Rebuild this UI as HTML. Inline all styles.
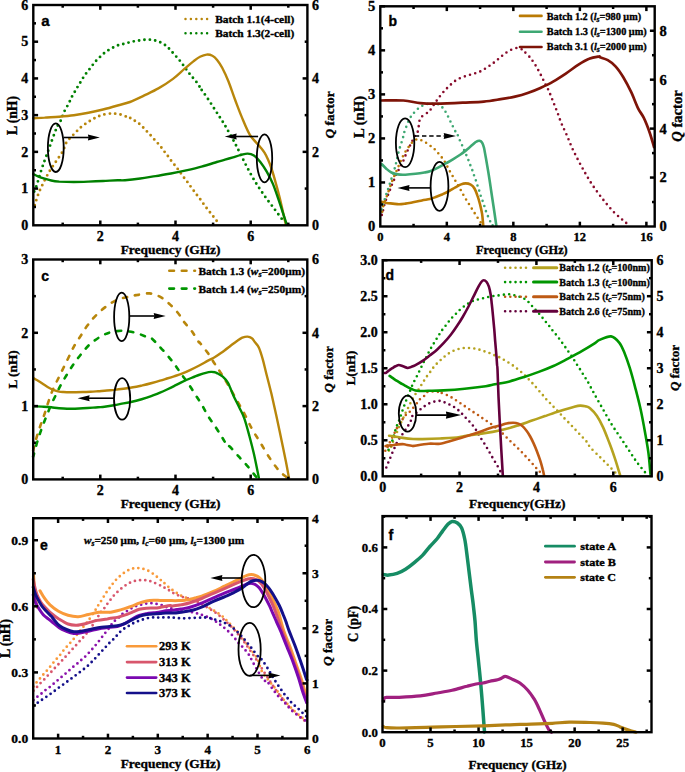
<!DOCTYPE html>
<html><head><meta charset="utf-8"><style>
html,body{margin:0;padding:0;background:#fff;}
svg{display:block;}
text{stroke:#000;stroke-width:0.35px;}
</style></head><body>
<svg width="685" height="772" viewBox="0 0 685 772">
<rect width="685" height="772" fill="#fff"/>
<path d="M34.2,191.5 C34.6,190.6 35.5,188.8 36.4,186.2 C37.3,183.6 38.5,179.4 39.5,176.0 C40.5,172.6 41.5,169.6 42.7,166.0 C43.9,162.4 45.5,158.3 46.9,154.4 C48.3,150.5 49.8,146.4 51.2,142.5 C52.6,138.6 54.4,133.7 55.4,131.0 C56.4,128.3 56.4,128.1 57.2,126.5 C58.0,124.9 59.5,123.0 60.4,121.3 C61.3,119.6 61.8,118.1 62.4,116.5 C63.0,114.9 63.5,113.2 64.3,111.6 C65.0,110.0 66.0,108.4 66.9,106.8 C67.8,105.2 68.7,103.5 69.5,101.9 C70.3,100.3 70.9,98.7 71.7,97.1 C72.5,95.5 73.5,93.9 74.4,92.4 C75.3,90.9 76.1,89.5 77.0,87.9 C77.9,86.4 79.0,84.6 79.9,83.1 C80.8,81.6 81.6,80.3 82.5,78.8 C83.4,77.3 84.3,75.8 85.4,74.3 C86.5,72.8 87.8,71.4 88.9,69.9 C90.0,68.5 91.1,67.0 92.2,65.6 C93.3,64.2 94.2,62.8 95.4,61.5 C96.6,60.2 97.9,58.9 99.3,57.6 C100.7,56.3 102.1,54.8 103.6,53.6 C105.0,52.4 106.4,51.4 108.0,50.4 C109.6,49.4 111.4,48.4 113.1,47.5 C114.8,46.6 116.5,45.8 118.2,45.2 C119.9,44.6 121.7,44.3 123.4,43.9 C125.1,43.5 126.8,43.0 128.5,42.6 C130.2,42.2 131.9,41.7 133.6,41.4 C135.3,41.1 137.0,40.9 138.7,40.6 C140.4,40.4 142.1,40.1 143.8,39.9 C145.5,39.7 147.2,39.5 148.9,39.6 C150.6,39.7 152.2,39.9 153.7,40.2 C155.2,40.5 156.6,40.9 158.1,41.4 C159.6,41.9 161.0,42.6 162.5,43.4 C164.0,44.2 165.6,45.3 166.9,46.4 C168.2,47.5 169.2,48.8 170.4,50.1 C171.6,51.4 173.0,53.0 174.2,54.4 C175.4,55.8 176.6,56.9 177.7,58.2 C178.8,59.5 179.9,60.7 181.0,62.1 C182.1,63.5 183.3,65.3 184.4,66.8 C185.5,68.3 186.5,69.8 187.6,71.2 C188.7,72.6 189.7,74.0 190.8,75.3 C191.9,76.6 193.1,78.0 194.2,79.3 C195.3,80.6 196.5,81.9 197.5,83.3 C198.5,84.7 199.6,86.7 200.0,87.5 C200.4,88.3 199.0,86.3 200.1,87.9 C201.2,89.5 203.6,92.5 206.6,96.9 C209.6,101.3 214.8,109.5 217.9,114.3 C221.0,119.1 222.2,120.7 225.0,125.5 C227.8,130.3 231.6,136.8 234.9,143.1 C238.2,149.3 241.6,156.6 244.9,163.0 C248.2,169.4 251.6,175.8 254.9,181.3 C258.2,186.8 261.5,191.5 264.8,196.2 C268.1,200.9 271.9,205.6 274.8,209.5 C277.7,213.4 280.7,217.2 282.2,219.4 C283.7,221.6 283.7,222.0 284.0,222.5" fill="none" stroke="#008000" stroke-width="2.9" stroke-linecap="round" stroke-linejoin="round" stroke-dasharray="0 5.4"/>
<path d="M34.7,205.3 C35.3,203.4 37.0,197.5 38.5,193.6 C40.0,189.7 41.9,185.9 43.8,182.0 C45.7,178.1 48.0,173.8 50.1,170.3 C52.2,166.8 54.4,164.0 56.5,160.8 C58.6,157.6 61.1,154.4 62.8,151.3 C64.5,148.2 64.7,145.1 66.5,142.3 C68.3,139.5 71.4,136.9 73.8,134.3 C76.2,131.8 78.7,129.1 81.1,127.0 C83.5,124.9 86.0,123.5 88.4,121.9 C90.8,120.3 93.3,118.8 95.7,117.6 C98.1,116.4 100.3,115.4 103.0,114.7 C105.7,114.0 109.4,113.6 111.8,113.5 C114.2,113.4 115.5,113.7 117.2,113.9 C118.9,114.2 120.6,114.5 122.2,115.0 C123.8,115.5 126.2,116.7 127.0,116.9 C127.8,117.1 126.5,116.1 127.3,116.4 C128.1,116.7 130.4,118.0 131.9,118.9 C133.4,119.8 135.0,120.8 136.5,121.9 C138.0,123.0 139.7,124.0 141.1,125.3 C142.5,126.5 143.6,128.1 144.9,129.4 C146.2,130.7 147.4,131.8 148.7,133.2 C150.0,134.5 151.2,136.1 152.5,137.5 C153.8,138.9 155.1,140.3 156.3,141.7 C157.5,143.0 158.8,144.2 159.9,145.6 C161.1,147.0 162.1,148.6 163.2,150.1 C164.3,151.6 165.5,152.9 166.6,154.3 C167.7,155.7 168.5,157.1 169.6,158.6 C170.7,160.1 172.0,161.6 173.2,163.1 C174.3,164.6 175.4,165.9 176.5,167.3 C177.6,168.7 178.5,170.1 179.6,171.6 C180.7,173.1 181.7,174.6 182.8,176.1 C183.9,177.6 185.1,178.9 186.2,180.3 C187.3,181.7 188.1,183.1 189.2,184.6 C190.3,186.1 191.5,187.6 192.6,189.1 C193.7,190.6 194.5,191.9 195.6,193.3 C196.7,194.7 197.9,196.2 199.0,197.6 C200.1,199.0 201.1,200.6 202.2,202.0 C203.2,203.4 204.2,204.9 205.3,206.3 C206.4,207.7 207.4,209.2 208.6,210.6 C209.8,212.0 211.0,213.6 212.2,215.0 C213.3,216.4 214.4,217.9 215.5,219.3 C216.6,220.7 218.3,222.8 218.9,223.5 C219.5,224.2 219.0,223.3 219.0,223.3" fill="none" stroke="#B8860B" stroke-width="2.9" stroke-linecap="round" stroke-linejoin="round" stroke-dasharray="0 5.4"/>
<path d="M33.2,118.3 C35.1,118.2 40.3,117.8 44.6,117.6 C48.9,117.3 54.3,117.2 59.2,116.8 C64.1,116.4 68.9,116.0 73.8,115.3 C78.7,114.6 83.5,113.8 88.4,112.8 C93.3,111.8 98.1,110.7 103.0,109.5 C107.9,108.3 113.1,106.8 117.6,105.5 C122.1,104.2 125.6,103.6 130.0,102.0 C134.4,100.4 139.1,98.0 143.8,95.7 C148.5,93.4 153.5,91.2 158.4,88.4 C163.3,85.6 168.6,82.2 173.0,78.9 C177.4,75.6 181.3,71.6 184.7,68.7 C188.1,65.8 190.8,63.4 193.4,61.4 C196.0,59.4 197.8,57.9 200.0,56.8 C202.2,55.7 204.5,54.8 206.6,54.6 C208.7,54.4 210.7,54.9 212.4,55.8 C214.2,56.7 215.5,57.9 217.1,59.9 C218.7,61.9 220.3,64.1 222.2,67.7 C224.1,71.3 226.4,76.2 228.5,81.5 C230.6,86.8 232.8,93.7 235.0,99.5 C237.2,105.3 239.1,110.7 241.6,116.6 C244.1,122.5 246.9,129.8 249.9,134.8 C252.9,139.8 257.4,143.4 259.8,146.4 C262.2,149.4 263.1,150.4 264.5,152.6 C265.9,154.8 266.9,157.0 268.1,159.7 C269.3,162.3 270.4,165.2 271.5,168.5 C272.6,171.8 273.4,174.7 274.8,179.6 C276.2,184.5 278.2,191.7 279.7,197.8 C281.2,203.9 282.9,211.7 283.9,216.1 C284.9,220.5 285.5,223.0 285.8,224.4" fill="none" stroke="#B8860B" stroke-width="2.4" stroke-linecap="round" stroke-linejoin="round"/>
<path d="M33.2,174.0 C34.0,174.4 36.1,175.5 38.0,176.3 C39.9,177.1 42.4,178.0 44.6,178.7 C46.8,179.4 48.8,180.0 51.2,180.5 C53.6,181.0 55.4,181.3 59.2,181.6 C63.0,181.8 68.9,182.0 73.8,182.0 C78.7,182.0 83.5,181.8 88.4,181.6 C93.3,181.4 98.1,181.2 103.0,181.0 C107.9,180.8 113.9,180.4 117.6,180.3 C121.3,180.2 121.2,180.5 125.0,180.2 C128.8,179.9 135.2,179.2 140.3,178.5 C145.4,177.8 150.5,176.9 155.6,176.1 C160.7,175.3 165.8,174.4 170.9,173.5 C176.0,172.6 181.1,171.6 186.2,170.4 C191.3,169.2 196.4,168.0 201.5,166.6 C206.6,165.2 212.8,163.2 216.7,162.0 C220.6,160.8 222.3,160.5 225.0,159.7 C227.7,158.9 230.3,158.1 233.0,157.3 C235.7,156.5 238.8,155.5 241.2,154.9 C243.6,154.3 245.5,153.5 247.6,153.6 C249.7,153.7 251.8,154.1 253.9,155.5 C256.0,156.9 258.2,159.2 260.3,161.9 C262.4,164.6 264.5,167.7 266.6,171.4 C268.7,175.1 271.1,179.5 273.0,184.1 C274.9,188.7 276.7,194.3 278.3,198.9 C279.9,203.5 281.1,207.4 282.5,211.6 C283.9,215.8 286.0,222.2 286.7,224.3" fill="none" stroke="#008000" stroke-width="2.4" stroke-linecap="round" stroke-linejoin="round"/>
<ellipse cx="55.8" cy="147.7" rx="7.9" ry="24.3" fill="none" stroke="#000" stroke-width="1.8"/>
<line x1="63.9" y1="137.5" x2="88.9" y2="137.5" stroke="#000" stroke-width="1.6"/>
<path d="M99.9,137.5 L87.9,134.4 L88.5,137.5 L87.9,140.6 Z" fill="#000"/>
<ellipse cx="264.5" cy="158.3" rx="7.7" ry="24" fill="none" stroke="#000" stroke-width="1.8"/>
<line x1="258.1" y1="136.5" x2="235.7" y2="136.5" stroke="#000" stroke-width="1.6"/>
<path d="M224.7,136.5 L236.7,133.4 L236.1,136.5 L236.7,139.6 Z" fill="#000"/>
<line x1="185.5" y1="19.1" x2="208.4" y2="19.1" stroke="#B8860B" stroke-width="2.5" stroke-dasharray="0 5.4" stroke-linecap="round"/>
<line x1="185.5" y1="33.2" x2="208.4" y2="33.2" stroke="#008000" stroke-width="2.5" stroke-dasharray="0 5.4" stroke-linecap="round"/>
<text x="215.2" y="22.6" font-size="11.4" text-anchor="start" font-weight="bold" font-family='"Liberation Serif", serif' >Batch 1.1(4-cell)</text>
<text x="215.2" y="37" font-size="11.4" text-anchor="start" font-weight="bold" font-family='"Liberation Serif", serif' >Batch 1.3(2-cell)</text>
<text x="41.2" y="26.3" font-size="15" text-anchor="start" font-weight="bold" font-family='"Liberation Sans", sans-serif' >a</text>
<text x="16.6" y="115.5" font-size="13.6" text-anchor="middle" font-weight="bold" font-family='"Liberation Serif", serif' transform="rotate(-90 16.6 115.5)"  textLength="38.9" lengthAdjust="spacingAndGlyphs">L (nH)</text>
<text x="334" y="114.9" font-size="13.4" text-anchor="middle" font-weight="bold" font-family='"Liberation Serif", serif' transform="rotate(-90 334 114.9)"  textLength="47.2" lengthAdjust="spacingAndGlyphs"><tspan font-style="italic">Q</tspan> factor</text>
<text x="170.6" y="253.9" font-size="13.4" text-anchor="middle" font-weight="bold" font-family='"Liberation Serif", serif' >Frequency (GHz)</text>
<line x1="100.30000000000001" y1="225.3" x2="100.30000000000001" y2="220.5" stroke="#000" stroke-width="2.5"/>
<line x1="100.30000000000001" y1="5" x2="100.30000000000001" y2="9.8" stroke="#000" stroke-width="2.5"/>
<line x1="175.5" y1="225.3" x2="175.5" y2="220.5" stroke="#000" stroke-width="2.5"/>
<line x1="175.5" y1="5" x2="175.5" y2="9.8" stroke="#000" stroke-width="2.5"/>
<line x1="250.70000000000002" y1="225.3" x2="250.70000000000002" y2="220.5" stroke="#000" stroke-width="2.5"/>
<line x1="250.70000000000002" y1="5" x2="250.70000000000002" y2="9.8" stroke="#000" stroke-width="2.5"/>
<line x1="62.7" y1="225.3" x2="62.7" y2="222.60000000000002" stroke="#000" stroke-width="2.5"/>
<line x1="62.7" y1="5" x2="62.7" y2="7.7" stroke="#000" stroke-width="2.5"/>
<line x1="137.9" y1="225.3" x2="137.9" y2="222.60000000000002" stroke="#000" stroke-width="2.5"/>
<line x1="137.9" y1="5" x2="137.9" y2="7.7" stroke="#000" stroke-width="2.5"/>
<line x1="213.1" y1="225.3" x2="213.1" y2="222.60000000000002" stroke="#000" stroke-width="2.5"/>
<line x1="213.1" y1="5" x2="213.1" y2="7.7" stroke="#000" stroke-width="2.5"/>
<line x1="288.3" y1="225.3" x2="288.3" y2="222.60000000000002" stroke="#000" stroke-width="2.5"/>
<line x1="288.3" y1="5" x2="288.3" y2="7.7" stroke="#000" stroke-width="2.5"/>
<line x1="33.3" y1="188.58" x2="38.099999999999994" y2="188.58" stroke="#000" stroke-width="2.5"/>
<line x1="33.3" y1="151.86" x2="38.099999999999994" y2="151.86" stroke="#000" stroke-width="2.5"/>
<line x1="33.3" y1="115.14000000000001" x2="38.099999999999994" y2="115.14000000000001" stroke="#000" stroke-width="2.5"/>
<line x1="33.3" y1="78.42000000000002" x2="38.099999999999994" y2="78.42000000000002" stroke="#000" stroke-width="2.5"/>
<line x1="33.3" y1="41.70000000000002" x2="38.099999999999994" y2="41.70000000000002" stroke="#000" stroke-width="2.5"/>
<line x1="33.3" y1="206.94" x2="36.0" y2="206.94" stroke="#000" stroke-width="2.5"/>
<line x1="33.3" y1="170.22000000000003" x2="36.0" y2="170.22000000000003" stroke="#000" stroke-width="2.5"/>
<line x1="33.3" y1="133.5" x2="36.0" y2="133.5" stroke="#000" stroke-width="2.5"/>
<line x1="33.3" y1="96.78000000000003" x2="36.0" y2="96.78000000000003" stroke="#000" stroke-width="2.5"/>
<line x1="33.3" y1="60.06" x2="36.0" y2="60.06" stroke="#000" stroke-width="2.5"/>
<line x1="33.3" y1="23.340000000000032" x2="36.0" y2="23.340000000000032" stroke="#000" stroke-width="2.5"/>
<line x1="307.4" y1="151.86" x2="302.59999999999997" y2="151.86" stroke="#000" stroke-width="2.5"/>
<line x1="307.4" y1="78.42000000000002" x2="302.59999999999997" y2="78.42000000000002" stroke="#000" stroke-width="2.5"/>
<line x1="307.4" y1="188.58" x2="304.7" y2="188.58" stroke="#000" stroke-width="2.5"/>
<line x1="307.4" y1="115.14000000000001" x2="304.7" y2="115.14000000000001" stroke="#000" stroke-width="2.5"/>
<line x1="307.4" y1="41.70000000000002" x2="304.7" y2="41.70000000000002" stroke="#000" stroke-width="2.5"/>
<text x="100.30000000000001" y="240.9" font-size="14" text-anchor="middle" font-weight="bold" font-family='"Liberation Serif", serif' >2</text>
<text x="175.5" y="240.9" font-size="14" text-anchor="middle" font-weight="bold" font-family='"Liberation Serif", serif' >4</text>
<text x="250.70000000000002" y="240.9" font-size="14" text-anchor="middle" font-weight="bold" font-family='"Liberation Serif", serif' >6</text>
<text x="28.299999999999997" y="230.06" font-size="14" text-anchor="end" font-weight="bold" font-family='"Liberation Serif", serif' >0</text>
<text x="28.299999999999997" y="193.34" font-size="14" text-anchor="end" font-weight="bold" font-family='"Liberation Serif", serif' >1</text>
<text x="28.299999999999997" y="156.62" font-size="14" text-anchor="end" font-weight="bold" font-family='"Liberation Serif", serif' >2</text>
<text x="28.299999999999997" y="119.90000000000002" font-size="14" text-anchor="end" font-weight="bold" font-family='"Liberation Serif", serif' >3</text>
<text x="28.299999999999997" y="83.18000000000002" font-size="14" text-anchor="end" font-weight="bold" font-family='"Liberation Serif", serif' >4</text>
<text x="28.299999999999997" y="46.460000000000015" font-size="14" text-anchor="end" font-weight="bold" font-family='"Liberation Serif", serif' >5</text>
<text x="28.299999999999997" y="9.74000000000002" font-size="14" text-anchor="end" font-weight="bold" font-family='"Liberation Serif", serif' >6</text>
<text x="312.09999999999997" y="230.06" font-size="14" text-anchor="start" font-weight="bold" font-family='"Liberation Serif", serif' >0</text>
<text x="312.09999999999997" y="156.62" font-size="14" text-anchor="start" font-weight="bold" font-family='"Liberation Serif", serif' >2</text>
<text x="312.09999999999997" y="83.18000000000002" font-size="14" text-anchor="start" font-weight="bold" font-family='"Liberation Serif", serif' >4</text>
<text x="312.09999999999997" y="9.74000000000002" font-size="14" text-anchor="start" font-weight="bold" font-family='"Liberation Serif", serif' >6</text>
<rect x="33.3" y="5" width="274.09999999999997" height="220.3" fill="none" stroke="#000" stroke-width="2.4"/>
<path d="M381.8,214.9 C381.8,214.9 381.7,215.7 381.9,214.8 C382.1,213.9 382.8,211.4 383.2,209.7 C383.6,208.0 383.9,206.3 384.4,204.6 C384.9,202.9 385.5,201.2 386.1,199.5 C386.7,197.8 387.5,196.2 388.2,194.5 C388.9,192.8 389.5,191.1 390.2,189.4 C390.9,187.7 391.4,186.0 392.1,184.3 C392.8,182.7 393.5,181.2 394.2,179.5 C394.9,177.8 395.4,176.1 396.2,174.4 C397.0,172.7 398.0,171.1 398.9,169.4 C399.8,167.7 401.0,165.7 401.8,164.0 C402.6,162.3 403.2,161.1 403.9,159.4 C404.6,157.8 405.3,155.8 406.0,154.1 C406.7,152.4 407.4,150.9 408.2,149.3 C408.9,147.7 409.8,146.1 410.5,144.6 C411.2,143.1 411.9,141.8 412.7,140.2 C413.5,138.6 414.4,136.9 415.3,135.3 C416.2,133.7 417.3,133.4 418.1,130.6 C418.9,127.8 418.6,121.6 420.3,118.5 C422.1,115.4 426.7,113.6 428.6,111.8 C430.6,110.0 430.9,108.9 432.0,107.4 C433.1,106.0 433.9,104.5 434.9,103.1 C435.9,101.6 437.0,100.2 438.1,98.7 C439.2,97.2 440.2,95.7 441.4,94.3 C442.6,92.9 443.9,91.4 445.1,90.1 C446.3,88.8 447.5,87.7 448.8,86.4 C450.1,85.2 451.6,83.8 453.0,82.6 C454.4,81.4 455.8,80.3 457.4,79.4 C459.0,78.5 460.8,77.9 462.5,77.2 C464.2,76.5 465.9,76.0 467.6,75.5 C469.3,75.0 471.0,74.5 472.7,74.0 C474.4,73.5 476.2,73.0 477.8,72.4 C479.4,71.8 480.9,71.2 482.4,70.4 C483.9,69.6 485.5,68.4 487.0,67.4 C488.5,66.4 490.0,65.5 491.4,64.5 C492.8,63.5 494.1,62.4 495.5,61.3 C496.9,60.2 498.3,59.0 499.7,57.8 C501.1,56.6 502.4,55.4 503.8,54.3 C505.2,53.2 506.7,52.3 508.2,51.4 C509.7,50.5 511.3,49.7 512.9,49.1 C514.5,48.5 516.2,47.9 517.7,48.0 C519.2,48.1 521.1,49.0 522.1,49.5 C523.1,50.0 522.2,49.5 523.5,50.8 C524.8,52.1 527.9,54.9 529.8,57.2 C531.7,59.5 533.3,61.8 535.1,64.6 C536.9,67.4 538.8,71.1 540.4,74.1 C542.0,77.1 543.2,79.8 544.6,82.6 C546.0,85.4 547.5,87.8 548.9,91.0 C550.3,94.2 551.7,98.1 553.1,101.6 C554.5,105.1 555.9,108.5 557.3,112.2 C558.7,115.9 560.0,119.9 561.6,123.8 C563.2,127.7 565.1,131.3 566.9,135.4 C568.7,139.5 570.3,143.9 572.2,148.1 C574.1,152.3 576.4,156.7 578.5,160.8 C580.6,164.9 582.8,168.8 584.9,172.5 C587.0,176.2 588.9,179.6 591.2,183.1 C593.5,186.6 596.1,190.3 598.6,193.7 C601.1,197.0 603.4,200.0 606.0,203.2 C608.6,206.4 611.7,210.0 614.5,212.8 C617.3,215.6 620.5,218.1 623.0,220.2 C625.5,222.3 628.2,224.6 629.3,225.5" fill="none" stroke="#880C2C" stroke-width="2.6" stroke-linecap="round" stroke-linejoin="round" stroke-dasharray="0 5.4"/>
<path d="M381.8,209.6 C381.9,209.2 382.2,208.4 382.5,207.2 C382.8,206.0 383.3,204.0 383.8,202.3 C384.3,200.7 384.8,199.0 385.3,197.3 C385.8,195.6 386.4,194.0 387.0,192.2 C387.6,190.4 388.3,188.4 388.9,186.5 C389.5,184.6 390.2,182.7 390.8,180.8 C391.4,178.9 392.1,176.8 392.7,175.0 C393.3,173.2 393.7,171.6 394.2,170.0 C394.7,168.4 395.1,167.1 395.5,165.5 C395.9,163.9 396.2,162.2 396.6,160.5 C397.0,158.8 397.4,157.1 397.8,155.4 C398.2,153.7 398.5,152.0 399.0,150.3 C399.5,148.6 400.1,146.8 400.6,145.2 C401.1,143.5 401.7,142.0 402.2,140.4 C402.7,138.8 403.1,137.3 403.5,135.7 C403.9,134.1 403.6,133.9 404.7,131.0 C405.8,128.1 408.1,121.7 409.8,118.5 C411.5,115.3 413.2,113.6 415.0,111.7 C416.8,109.8 418.4,108.2 420.3,106.9 C422.2,105.6 424.9,104.6 426.7,104.1 C428.5,103.6 428.8,103.6 430.9,103.7 C433.0,103.8 436.9,103.4 439.4,104.8 C441.9,106.2 443.8,109.1 445.7,112.1 C447.6,115.1 449.4,119.5 451.0,122.7 C452.6,125.9 454.5,129.7 455.3,131.2 C456.1,132.7 455.6,130.8 456.0,131.5 C456.4,132.2 457.3,134.1 458.0,135.7 C458.7,137.3 459.4,139.3 460.1,141.0 C460.8,142.7 461.7,144.3 462.4,145.9 C463.1,147.5 463.6,148.9 464.3,150.6 C465.0,152.2 465.9,154.1 466.6,155.8 C467.4,157.6 468.1,159.4 468.8,161.1 C469.5,162.8 470.1,164.6 470.7,166.2 C471.3,167.8 472.0,169.3 472.6,170.9 C473.2,172.5 473.6,174.2 474.2,175.8 C474.8,177.5 475.4,179.1 476.0,180.8 C476.6,182.5 477.1,184.2 477.6,185.9 C478.2,187.6 478.8,189.3 479.3,191.0 C479.8,192.7 480.2,194.4 480.8,196.1 C481.4,197.8 482.1,199.5 482.7,201.2 C483.3,202.9 483.9,204.6 484.4,206.2 C484.9,207.8 485.3,209.4 485.9,211.0 C486.5,212.6 487.2,214.3 487.8,215.8 C488.4,217.3 489.1,218.8 489.7,220.2 C490.3,221.6 491.2,223.1 491.6,224.0 C492.0,224.9 492.0,225.4 492.3,225.5 C492.6,225.6 493.2,224.6 493.4,224.4" fill="none" stroke="#3EA873" stroke-width="2.6" stroke-linecap="round" stroke-linejoin="round" stroke-dasharray="0 5.4"/>
<path d="M382.2,211.7 C382.5,210.3 383.2,205.7 383.8,203.6 C384.4,201.5 385.1,200.8 385.7,199.2 C386.3,197.6 387.0,195.9 387.6,194.1 C388.2,192.3 388.9,190.2 389.5,188.4 C390.1,186.6 390.8,185.0 391.4,183.3 C392.0,181.6 392.6,179.9 393.3,178.2 C394.0,176.5 394.9,174.8 395.6,173.1 C396.4,171.4 397.1,169.5 397.8,167.8 C398.6,166.1 399.4,164.4 400.1,162.7 C400.8,161.0 401.4,159.3 402.2,157.7 C403.0,156.0 403.8,154.4 404.7,152.8 C405.6,151.2 406.7,149.8 407.7,148.4 C408.7,147.0 409.4,145.5 410.5,144.2 C411.6,142.9 412.8,141.7 414.0,140.8 C415.2,140.0 416.5,139.2 417.8,139.1 C419.1,139.0 420.5,139.9 421.9,140.5 C423.3,141.1 424.8,142.0 426.3,142.9 C427.8,143.8 430.0,145.6 430.8,146.2 C431.6,146.8 430.6,145.8 431.3,146.3 C432.0,146.8 433.6,148.1 434.8,149.3 C436.0,150.5 437.2,152.0 438.3,153.3 C439.4,154.6 440.6,155.9 441.7,157.3 C442.8,158.7 443.7,160.0 444.6,161.5 C445.5,163.0 446.4,164.7 447.2,166.3 C448.0,167.9 448.8,169.4 449.7,171.0 C450.6,172.6 451.7,174.4 452.6,176.0 C453.6,177.6 454.5,179.2 455.4,180.8 C456.3,182.4 457.1,183.8 458.0,185.3 C458.9,186.8 459.8,188.4 460.7,190.0 C461.6,191.6 462.4,193.2 463.3,194.8 C464.2,196.4 465.2,198.0 466.2,199.6 C467.2,201.2 468.2,202.8 469.1,204.3 C470.1,205.8 471.0,207.3 471.9,208.8 C472.8,210.3 473.8,211.7 474.7,213.2 C475.6,214.7 476.6,216.2 477.6,217.7 C478.6,219.2 479.9,221.0 480.6,222.1 C481.3,223.2 481.8,224.1 482.0,224.5" fill="none" stroke="#BA7A04" stroke-width="2.6" stroke-linecap="round" stroke-linejoin="round" stroke-dasharray="0 5.4"/>
<path d="M381.2,100.5 C384.9,100.5 396.9,100.1 403.4,100.5 C409.9,100.9 415.0,102.6 420.3,103.1 C425.6,103.6 428.1,103.8 435.2,103.7 C442.3,103.6 454.6,103.1 462.7,102.7 C470.8,102.3 477.4,102.2 483.8,101.6 C490.2,101.0 495.6,100.0 500.8,99.2 C506.0,98.4 510.5,97.6 515.0,96.6 C519.5,95.6 523.5,94.5 527.7,93.0 C531.9,91.5 536.2,89.8 540.4,87.9 C544.6,86.0 548.9,84.0 553.1,81.6 C557.3,79.2 561.6,76.4 565.8,73.6 C570.0,70.8 574.6,67.1 578.5,64.6 C582.4,62.1 585.7,60.1 589.1,58.8 C592.5,57.4 597.2,56.8 599.0,56.5 C600.8,56.2 598.5,56.7 600.0,57.3 C601.5,57.9 605.2,58.6 607.8,60.1 C610.4,61.6 612.9,63.4 615.5,66.3 C618.1,69.1 620.7,72.9 623.3,77.2 C625.9,81.5 628.6,86.7 631.1,91.9 C633.6,97.1 636.0,104.0 638.1,108.3 C640.2,112.6 641.7,113.6 643.7,117.7 C645.7,121.8 648.2,128.3 649.9,133.2 C651.6,138.1 653.3,144.7 654.0,147.0" fill="none" stroke="#7E1408" stroke-width="2.7" stroke-linecap="round" stroke-linejoin="round"/>
<path d="M381.8,165.0 C381.8,164.9 381.1,163.7 381.9,164.3 C382.6,164.9 384.7,167.3 386.3,168.7 C387.9,170.1 389.5,171.6 391.4,172.5 C393.3,173.4 395.5,174.0 397.8,174.4 C400.1,174.8 402.4,174.8 405.4,174.7 C408.3,174.6 412.3,174.2 415.5,173.8 C418.7,173.4 422.0,172.9 424.4,172.5 C426.8,172.1 427.8,172.0 430.0,171.2 C432.2,170.4 435.1,169.2 437.6,167.9 C440.1,166.7 442.6,165.1 445.2,163.7 C447.8,162.3 450.3,160.8 452.9,159.3 C455.4,157.8 458.1,156.1 460.5,154.5 C462.9,152.9 465.0,151.2 467.0,149.6 C469.0,148.0 470.9,146.0 472.5,144.7 C474.1,143.4 475.2,142.2 476.4,141.6 C477.6,140.9 478.7,140.6 479.6,140.8 C480.6,141.0 481.4,141.5 482.1,142.7 C482.8,143.9 483.4,145.2 484.0,147.8 C484.6,150.4 485.1,153.8 485.9,158.0 C486.6,162.2 487.6,167.9 488.5,173.2 C489.4,178.5 490.2,184.2 491.0,189.7 C491.8,195.2 492.6,200.5 493.5,206.2 C494.4,211.9 495.6,220.8 496.1,224.0 C496.6,227.2 496.3,225.2 496.3,225.5" fill="none" stroke="#3EA873" stroke-width="2.6" stroke-linecap="round" stroke-linejoin="round"/>
<path d="M381.8,202.2 C381.8,202.1 381.1,201.6 381.9,201.7 C382.6,201.8 384.5,202.7 386.3,203.0 C388.1,203.3 390.6,203.4 392.7,203.6 C394.8,203.8 396.9,204.2 399.0,204.2 C401.1,204.2 403.1,203.9 405.4,203.6 C407.7,203.3 410.2,202.8 413.0,202.3 C415.8,201.8 419.1,201.0 421.9,200.4 C424.7,199.8 427.6,199.6 430.0,199.0 C432.4,198.4 434.3,197.5 436.4,196.7 C438.5,195.9 440.6,195.1 442.7,194.2 C444.8,193.2 447.0,192.1 449.1,191.0 C451.2,189.9 453.4,188.5 455.4,187.4 C457.4,186.3 459.4,185.1 461.1,184.4 C462.8,183.7 464.0,183.4 465.6,183.4 C467.2,183.4 469.2,183.8 470.7,184.6 C472.2,185.4 473.4,186.6 474.5,188.5 C475.6,190.4 476.7,193.3 477.6,196.1 C478.6,198.8 479.4,202.0 480.2,205.0 C480.9,208.0 481.6,210.7 482.1,213.9 C482.6,217.1 482.9,222.1 483.1,224.0 C483.3,225.9 483.3,225.2 483.3,225.5" fill="none" stroke="#BA7A04" stroke-width="2.6" stroke-linecap="round" stroke-linejoin="round"/>
<ellipse cx="405.1" cy="142.8" rx="9.2" ry="24.4" fill="none" stroke="#000" stroke-width="1.8"/>
<line x1="414.8" y1="136" x2="444.7" y2="136" stroke="#000" stroke-width="1.6" stroke-dasharray="4.4 2.8"/>
<path d="M456,136 L443.7,133 L444.3,136 L443.7,139 Z" fill="#000"/>
<ellipse cx="439.5" cy="186.3" rx="8.9" ry="24.5" fill="none" stroke="#000" stroke-width="1.8"/>
<line x1="430.9" y1="187.9" x2="408.5" y2="187.9" stroke="#000" stroke-width="1.6"/>
<path d="M397.5,187.9 L409.5,184.9 L408.9,187.9 L409.5,190.9 Z" fill="#000"/>
<line x1="520" y1="15.9" x2="541.5" y2="15.9" stroke="#BA7A04" stroke-width="2.6" stroke-linecap="round"/>
<line x1="520" y1="31.8" x2="541.5" y2="31.8" stroke="#3EA873" stroke-width="2.6" stroke-linecap="round"/>
<line x1="520" y1="47" x2="541.5" y2="47" stroke="#7E1408" stroke-width="2.6" stroke-linecap="round"/>
<text x="546.8" y="20.1" font-size="10.5" text-anchor="start" font-weight="bold" font-family='"Liberation Serif", serif'  textLength="94.3" lengthAdjust="spacingAndGlyphs">Batch 1.2 (<tspan font-style="italic">l</tspan><tspan font-style="italic" font-size="8" dy="2">s</tspan><tspan dy="-2">=980 μm)</tspan></text>
<text x="546.8" y="35.3" font-size="10.5" text-anchor="start" font-weight="bold" font-family='"Liberation Serif", serif'  textLength="99.9" lengthAdjust="spacingAndGlyphs">Batch 1.3 (<tspan font-style="italic">l</tspan><tspan font-style="italic" font-size="8" dy="2">s</tspan><tspan dy="-2">=1300 μm)</tspan></text>
<text x="546.8" y="50.2" font-size="10.5" text-anchor="start" font-weight="bold" font-family='"Liberation Serif", serif'  textLength="99.9" lengthAdjust="spacingAndGlyphs">Batch 3.1 (<tspan font-style="italic">l</tspan><tspan font-style="italic" font-size="8" dy="2">s</tspan><tspan dy="-2">=2000 μm)</tspan></text>
<text x="388.4" y="26.3" font-size="14" text-anchor="start" font-weight="bold" font-family='"Liberation Sans", sans-serif' >b</text>
<text x="363.7" y="116.9" font-size="14.7" text-anchor="middle" font-weight="bold" font-family='"Liberation Serif", serif' transform="rotate(-90 363.7 116.9)"  textLength="42" lengthAdjust="spacingAndGlyphs">L (nH)</text>
<text x="682.3" y="116" font-size="14.6" text-anchor="middle" font-weight="bold" font-family='"Liberation Serif", serif' transform="rotate(-90 682.3 116)"  textLength="51.3" lengthAdjust="spacingAndGlyphs"><tspan font-style="italic">Q</tspan> factor</text>
<text x="521.9" y="254.3" font-size="12.3" text-anchor="middle" font-weight="bold" font-family='"Liberation Serif", serif' >Frequency (GHz)</text>
<line x1="446.82" y1="226.5" x2="446.82" y2="221.7" stroke="#000" stroke-width="2.5"/>
<line x1="446.82" y1="6.3" x2="446.82" y2="11.1" stroke="#000" stroke-width="2.5"/>
<line x1="513.34" y1="226.5" x2="513.34" y2="221.7" stroke="#000" stroke-width="2.5"/>
<line x1="513.34" y1="6.3" x2="513.34" y2="11.1" stroke="#000" stroke-width="2.5"/>
<line x1="579.86" y1="226.5" x2="579.86" y2="221.7" stroke="#000" stroke-width="2.5"/>
<line x1="579.86" y1="6.3" x2="579.86" y2="11.1" stroke="#000" stroke-width="2.5"/>
<line x1="646.38" y1="226.5" x2="646.38" y2="221.7" stroke="#000" stroke-width="2.5"/>
<line x1="646.38" y1="6.3" x2="646.38" y2="11.1" stroke="#000" stroke-width="2.5"/>
<line x1="413.56" y1="226.5" x2="413.56" y2="223.8" stroke="#000" stroke-width="2.5"/>
<line x1="413.56" y1="6.3" x2="413.56" y2="9.0" stroke="#000" stroke-width="2.5"/>
<line x1="480.08000000000004" y1="226.5" x2="480.08000000000004" y2="223.8" stroke="#000" stroke-width="2.5"/>
<line x1="480.08000000000004" y1="6.3" x2="480.08000000000004" y2="9.0" stroke="#000" stroke-width="2.5"/>
<line x1="546.6" y1="226.5" x2="546.6" y2="223.8" stroke="#000" stroke-width="2.5"/>
<line x1="546.6" y1="6.3" x2="546.6" y2="9.0" stroke="#000" stroke-width="2.5"/>
<line x1="613.12" y1="226.5" x2="613.12" y2="223.8" stroke="#000" stroke-width="2.5"/>
<line x1="613.12" y1="6.3" x2="613.12" y2="9.0" stroke="#000" stroke-width="2.5"/>
<line x1="380.3" y1="182.46" x2="385.1" y2="182.46" stroke="#000" stroke-width="2.5"/>
<line x1="380.3" y1="138.42000000000002" x2="385.1" y2="138.42000000000002" stroke="#000" stroke-width="2.5"/>
<line x1="380.3" y1="94.38" x2="385.1" y2="94.38" stroke="#000" stroke-width="2.5"/>
<line x1="380.3" y1="50.34" x2="385.1" y2="50.34" stroke="#000" stroke-width="2.5"/>
<line x1="380.3" y1="6.300000000000011" x2="385.1" y2="6.300000000000011" stroke="#000" stroke-width="2.5"/>
<line x1="380.3" y1="204.48" x2="383.0" y2="204.48" stroke="#000" stroke-width="2.5"/>
<line x1="380.3" y1="160.44" x2="383.0" y2="160.44" stroke="#000" stroke-width="2.5"/>
<line x1="380.3" y1="116.4" x2="383.0" y2="116.4" stroke="#000" stroke-width="2.5"/>
<line x1="380.3" y1="72.36000000000001" x2="383.0" y2="72.36000000000001" stroke="#000" stroke-width="2.5"/>
<line x1="380.3" y1="28.319999999999993" x2="383.0" y2="28.319999999999993" stroke="#000" stroke-width="2.5"/>
<line x1="654.7" y1="177.56" x2="649.9000000000001" y2="177.56" stroke="#000" stroke-width="2.5"/>
<line x1="654.7" y1="128.62" x2="649.9000000000001" y2="128.62" stroke="#000" stroke-width="2.5"/>
<line x1="654.7" y1="79.68" x2="649.9000000000001" y2="79.68" stroke="#000" stroke-width="2.5"/>
<line x1="654.7" y1="30.74000000000001" x2="649.9000000000001" y2="30.74000000000001" stroke="#000" stroke-width="2.5"/>
<line x1="654.7" y1="202.03" x2="652.0" y2="202.03" stroke="#000" stroke-width="2.5"/>
<line x1="654.7" y1="153.09" x2="652.0" y2="153.09" stroke="#000" stroke-width="2.5"/>
<line x1="654.7" y1="104.15" x2="652.0" y2="104.15" stroke="#000" stroke-width="2.5"/>
<line x1="654.7" y1="55.21000000000001" x2="652.0" y2="55.21000000000001" stroke="#000" stroke-width="2.5"/>
<text x="380.3" y="241.3" font-size="12.5" text-anchor="middle" font-weight="bold" font-family='"Liberation Serif", serif' >0</text>
<text x="446.82" y="241.3" font-size="12.5" text-anchor="middle" font-weight="bold" font-family='"Liberation Serif", serif' >4</text>
<text x="513.34" y="241.3" font-size="12.5" text-anchor="middle" font-weight="bold" font-family='"Liberation Serif", serif' >8</text>
<text x="579.86" y="241.3" font-size="12.5" text-anchor="middle" font-weight="bold" font-family='"Liberation Serif", serif' >12</text>
<text x="646.38" y="241.3" font-size="12.5" text-anchor="middle" font-weight="bold" font-family='"Liberation Serif", serif' >16</text>
<text x="375.3" y="231.43" font-size="14.5" text-anchor="end" font-weight="bold" font-family='"Liberation Serif", serif' >0</text>
<text x="375.3" y="187.39000000000001" font-size="14.5" text-anchor="end" font-weight="bold" font-family='"Liberation Serif", serif' >1</text>
<text x="375.3" y="143.35000000000002" font-size="14.5" text-anchor="end" font-weight="bold" font-family='"Liberation Serif", serif' >2</text>
<text x="375.3" y="99.31" font-size="14.5" text-anchor="end" font-weight="bold" font-family='"Liberation Serif", serif' >3</text>
<text x="375.3" y="55.27" font-size="14.5" text-anchor="end" font-weight="bold" font-family='"Liberation Serif", serif' >4</text>
<text x="375.3" y="11.230000000000011" font-size="14.5" text-anchor="end" font-weight="bold" font-family='"Liberation Serif", serif' >5</text>
<text x="659.4000000000001" y="231.43" font-size="14.5" text-anchor="start" font-weight="bold" font-family='"Liberation Serif", serif' >0</text>
<text x="659.4000000000001" y="182.49" font-size="14.5" text-anchor="start" font-weight="bold" font-family='"Liberation Serif", serif' >2</text>
<text x="659.4000000000001" y="133.55" font-size="14.5" text-anchor="start" font-weight="bold" font-family='"Liberation Serif", serif' >4</text>
<text x="659.4000000000001" y="84.61000000000001" font-size="14.5" text-anchor="start" font-weight="bold" font-family='"Liberation Serif", serif' >6</text>
<text x="659.4000000000001" y="35.67000000000001" font-size="14.5" text-anchor="start" font-weight="bold" font-family='"Liberation Serif", serif' >8</text>
<rect x="380.3" y="6.3" width="274.40000000000003" height="220.2" fill="none" stroke="#000" stroke-width="2.4"/>
<path d="M33.2,450.7 C33.2,450.4 32.9,451.5 33.5,449.0 C34.1,446.5 35.9,439.8 37.1,435.6 C38.4,431.4 39.7,427.7 41.0,423.9 C42.3,420.1 43.6,416.8 44.9,412.9 C46.2,409.0 47.4,404.6 48.8,400.6 C50.2,396.6 51.5,392.8 53.1,389.0 C54.7,385.2 56.8,381.5 58.5,378.0 C60.2,374.5 61.8,371.3 63.5,367.8 C65.2,364.3 67.1,360.5 68.9,356.8 C70.7,353.1 72.4,349.3 74.4,345.7 C76.4,342.1 78.9,338.6 81.1,335.2 C83.3,331.8 85.1,328.6 87.6,325.3 C90.1,322.0 92.8,318.5 96.0,315.3 C99.2,312.1 103.2,308.6 106.8,306.0 C110.4,303.4 114.2,301.2 117.8,299.6 C121.4,298.1 125.1,297.5 128.4,296.7 C131.7,295.9 134.2,295.4 137.7,294.9 C141.2,294.3 145.7,293.1 149.4,293.4 C153.1,293.7 156.6,295.0 159.9,296.7 C163.2,298.4 166.2,301.0 169.2,303.7 C172.2,306.4 175.5,309.9 178.0,313.0 C180.5,316.1 182.1,319.4 184.4,322.4 C186.7,325.4 189.3,327.8 191.7,331.0 C194.0,334.2 197.2,339.8 198.5,341.7 C199.8,343.6 198.3,340.8 199.8,342.7 C201.3,344.6 205.2,349.3 207.7,352.8 C210.2,356.3 212.5,360.4 214.7,363.7 C216.9,367.0 218.6,369.4 220.8,372.9 C223.0,376.3 225.4,380.2 227.8,384.4 C230.2,388.6 232.8,393.1 235.5,398.0 C238.2,402.9 241.6,408.3 244.3,413.5 C247.1,418.7 249.4,424.3 252.0,429.0 C254.6,433.7 257.1,437.2 259.8,441.7 C262.6,446.2 265.4,451.5 268.5,456.2 C271.6,460.9 275.2,466.2 278.3,469.8 C281.4,473.4 285.6,476.3 287.0,477.6" fill="none" stroke="#B8860B" stroke-width="2.6" stroke-linecap="round" stroke-linejoin="round" stroke-dasharray="4.2 8"/>
<path d="M33.2,456.0 C33.2,455.9 32.7,458.1 33.5,455.5 C34.3,452.9 36.4,444.6 37.8,440.1 C39.2,435.6 40.3,432.4 41.7,428.5 C43.1,424.6 44.7,420.6 46.2,416.8 C47.7,413.0 49.1,409.5 50.7,405.8 C52.3,402.1 54.2,398.4 55.9,394.8 C57.6,391.2 59.2,387.9 61.1,384.4 C63.0,380.9 65.4,377.0 67.5,373.6 C69.6,370.2 71.5,367.1 73.8,363.8 C76.1,360.5 78.8,357.0 81.4,353.8 C84.0,350.6 86.5,347.3 89.6,344.5 C92.7,341.7 96.6,338.9 100.1,336.9 C103.5,334.9 106.6,333.3 110.3,332.3 C114.0,331.3 118.4,330.8 122.5,330.8 C126.6,330.9 130.7,331.6 134.8,332.6 C138.9,333.6 144.3,336.1 147.0,337.0 C149.7,337.9 149.2,336.5 151.0,337.8 C152.8,339.1 155.2,341.9 157.8,344.6 C160.4,347.4 163.8,351.1 166.5,354.3 C169.2,357.5 171.9,360.8 174.3,364.0 C176.7,367.2 178.7,370.3 181.1,373.7 C183.5,377.1 186.4,380.8 188.8,384.4 C191.2,387.9 193.3,391.4 195.6,395.0 C197.9,398.6 200.3,402.1 202.4,405.7 C204.5,409.3 206.2,413.0 208.3,416.4 C210.4,419.8 212.8,422.7 215.0,426.1 C217.2,429.5 219.7,433.4 221.8,436.8 C223.9,440.2 226.4,444.9 227.7,446.5 C229.0,448.1 227.8,444.7 229.7,446.5 C231.6,448.3 236.3,453.8 239.4,457.2 C242.5,460.6 245.3,463.5 248.2,466.9 C251.1,470.3 255.2,475.9 256.9,477.6 C258.5,479.3 257.9,477.3 258.1,477.2" fill="none" stroke="#009600" stroke-width="2.6" stroke-linecap="round" stroke-linejoin="round" stroke-dasharray="4.2 8"/>
<path d="M33.2,378.1 C34.0,378.6 36.4,379.9 38.0,380.8 C39.6,381.8 41.0,382.7 42.7,383.8 C44.4,384.9 46.2,386.2 48.0,387.2 C49.8,388.2 51.6,389.1 53.3,389.8 C55.0,390.5 56.4,390.9 58.0,391.3 C59.6,391.7 61.0,391.9 63.0,392.0 C65.0,392.1 66.7,392.2 70.0,392.2 C73.3,392.2 79.1,392.1 82.9,392.0 C86.7,391.9 90.5,391.7 93.0,391.6 C95.5,391.5 96.1,391.4 98.0,391.3 C99.9,391.2 101.8,391.0 104.5,390.8 C107.2,390.6 110.8,390.2 114.0,389.9 C117.2,389.5 120.3,389.1 123.5,388.7 C126.7,388.3 129.8,387.9 133.0,387.3 C136.2,386.8 139.2,386.1 142.4,385.4 C145.6,384.7 149.0,383.8 151.9,383.0 C154.8,382.2 157.5,381.4 160.0,380.6 C162.5,379.9 164.7,379.2 167.0,378.5 C169.3,377.8 171.6,377.1 174.0,376.3 C176.4,375.5 178.6,374.9 181.3,373.9 C184.0,372.9 187.1,371.5 190.0,370.1 C192.9,368.8 195.9,367.3 198.8,365.8 C201.7,364.3 204.8,362.4 207.5,360.9 C210.2,359.4 212.7,358.4 215.0,357.0 C217.3,355.6 218.8,354.6 221.3,352.8 C223.8,351.0 227.4,348.2 230.0,346.2 C232.6,344.2 234.9,342.3 237.0,340.9 C239.1,339.5 240.6,338.4 242.3,337.7 C244.1,337.0 245.9,336.5 247.5,336.6 C249.1,336.7 250.7,337.4 251.9,338.3 C253.2,339.2 253.8,340.8 255.0,342.3 C256.1,343.8 257.5,344.7 258.8,347.5 C260.1,350.3 261.4,354.6 262.7,359.1 C264.0,363.6 265.1,368.9 266.6,374.7 C268.1,380.5 269.9,387.3 271.5,394.1 C273.1,400.9 274.7,408.0 276.3,415.4 C277.9,422.8 279.6,430.9 281.2,438.7 C282.8,446.5 284.7,455.5 286.0,462.0 C287.3,468.5 288.4,475.0 288.9,477.6" fill="none" stroke="#B8860B" stroke-width="2.4" stroke-linecap="round" stroke-linejoin="round"/>
<path d="M33.2,406.3 C34.7,406.4 39.0,406.4 42.0,406.6 C45.0,406.8 48.4,407.0 51.2,407.3 C54.0,407.6 56.4,408.0 59.0,408.2 C61.6,408.4 64.3,408.6 67.0,408.7 C69.7,408.8 72.3,408.8 75.0,408.7 C77.7,408.6 79.9,408.5 82.9,408.3 C85.9,408.1 90.5,407.8 93.0,407.6 C95.5,407.4 96.1,407.5 98.0,407.3 C99.9,407.1 101.8,407.0 104.5,406.7 C107.2,406.4 110.8,405.9 114.0,405.3 C117.2,404.8 120.3,404.0 123.5,403.4 C126.7,402.8 129.8,402.2 133.0,401.5 C136.2,400.8 139.2,399.9 142.4,399.0 C145.6,398.1 149.0,396.9 151.9,395.8 C154.8,394.7 157.5,393.7 160.0,392.6 C162.5,391.6 164.7,390.6 167.0,389.5 C169.3,388.4 171.6,387.3 174.0,386.1 C176.4,384.9 178.6,383.7 181.3,382.4 C184.0,381.1 187.1,379.7 190.0,378.5 C192.9,377.3 196.2,375.9 198.8,375.0 C201.4,374.1 203.8,373.3 205.8,372.8 C207.8,372.3 209.5,372.0 211.0,371.9 C212.5,371.8 214.0,372.1 215.0,372.3 C216.0,372.5 215.7,372.4 217.0,373.1 C218.3,373.8 221.0,375.1 222.8,376.6 C224.6,378.2 226.4,380.4 227.7,382.4 C229.0,384.4 229.5,386.2 230.5,388.5 C231.5,390.8 232.1,392.8 233.6,396.0 C235.1,399.2 237.6,404.0 239.4,407.7 C241.2,411.4 242.7,413.8 244.3,418.3 C245.9,422.8 247.5,428.9 249.1,434.9 C250.7,440.9 252.4,447.2 254.0,454.3 C255.6,461.4 258.0,473.7 258.8,477.6" fill="none" stroke="#008C00" stroke-width="2.4" stroke-linecap="round" stroke-linejoin="round"/>
<ellipse cx="121.7" cy="316.9" rx="7.6" ry="24.2" fill="none" stroke="#000" stroke-width="1.8"/>
<line x1="129.3" y1="316" x2="154.7" y2="316" stroke="#000" stroke-width="1.6"/>
<path d="M165.7,316 L153.7,313 L154.29999999999998,316 L153.7,319 Z" fill="#000"/>
<ellipse cx="122.1" cy="398.9" rx="8.1" ry="20.8" fill="none" stroke="#000" stroke-width="1.8"/>
<line x1="114.3" y1="398.2" x2="88.6" y2="398.2" stroke="#000" stroke-width="1.6"/>
<path d="M77.6,398.2 L89.6,395.2 L89.0,398.2 L89.6,401.2 Z" fill="#000"/>
<line x1="169.3" y1="270.8" x2="195" y2="270.8" stroke="#B8860B" stroke-width="2.6" stroke-dasharray="4.7 7.8" stroke-linecap="round"/>
<line x1="169.3" y1="288.6" x2="195" y2="288.6" stroke="#009600" stroke-width="2.6" stroke-dasharray="4.7 7.8" stroke-linecap="round"/>
<text x="198.4" y="275.1" font-size="11.2" text-anchor="start" font-weight="bold" font-family='"Liberation Serif", serif'  textLength="106.7" lengthAdjust="spacingAndGlyphs">Batch 1.3 (<tspan font-style="italic">w</tspan><tspan font-style="italic" font-size="8" dy="2">s</tspan><tspan dy="-2">=200μm)</tspan></text>
<text x="198.4" y="292.7" font-size="11.2" text-anchor="start" font-weight="bold" font-family='"Liberation Serif", serif'  textLength="106.7" lengthAdjust="spacingAndGlyphs">Batch 1.4 (<tspan font-style="italic">w</tspan><tspan font-style="italic" font-size="8" dy="2">s</tspan><tspan dy="-2">=250μm)</tspan></text>
<text x="41.2" y="280.5" font-size="14" text-anchor="start" font-weight="bold" font-family='"Liberation Sans", sans-serif' >c</text>
<text x="16.6" y="369.4" font-size="13.4" text-anchor="middle" font-weight="bold" font-family='"Liberation Serif", serif' transform="rotate(-90 16.6 369.4)"  textLength="38.3" lengthAdjust="spacingAndGlyphs">L (nH)</text>
<text x="333.5" y="369.4" font-size="13.3" text-anchor="middle" font-weight="bold" font-family='"Liberation Serif", serif' transform="rotate(-90 333.5 369.4)"  textLength="46.6" lengthAdjust="spacingAndGlyphs"><tspan font-style="italic">Q</tspan> factor</text>
<text x="170.6" y="508.3" font-size="13.4" text-anchor="middle" font-weight="bold" font-family='"Liberation Serif", serif' >Frequency (GHz)</text>
<line x1="100.30000000000001" y1="479.4" x2="100.30000000000001" y2="474.59999999999997" stroke="#000" stroke-width="2.5"/>
<line x1="100.30000000000001" y1="259.5" x2="100.30000000000001" y2="264.3" stroke="#000" stroke-width="2.5"/>
<line x1="175.5" y1="479.4" x2="175.5" y2="474.59999999999997" stroke="#000" stroke-width="2.5"/>
<line x1="175.5" y1="259.5" x2="175.5" y2="264.3" stroke="#000" stroke-width="2.5"/>
<line x1="250.70000000000002" y1="479.4" x2="250.70000000000002" y2="474.59999999999997" stroke="#000" stroke-width="2.5"/>
<line x1="250.70000000000002" y1="259.5" x2="250.70000000000002" y2="264.3" stroke="#000" stroke-width="2.5"/>
<line x1="62.7" y1="479.4" x2="62.7" y2="476.7" stroke="#000" stroke-width="2.5"/>
<line x1="62.7" y1="259.5" x2="62.7" y2="262.2" stroke="#000" stroke-width="2.5"/>
<line x1="137.9" y1="479.4" x2="137.9" y2="476.7" stroke="#000" stroke-width="2.5"/>
<line x1="137.9" y1="259.5" x2="137.9" y2="262.2" stroke="#000" stroke-width="2.5"/>
<line x1="213.1" y1="479.4" x2="213.1" y2="476.7" stroke="#000" stroke-width="2.5"/>
<line x1="213.1" y1="259.5" x2="213.1" y2="262.2" stroke="#000" stroke-width="2.5"/>
<line x1="288.3" y1="479.4" x2="288.3" y2="476.7" stroke="#000" stroke-width="2.5"/>
<line x1="288.3" y1="259.5" x2="288.3" y2="262.2" stroke="#000" stroke-width="2.5"/>
<line x1="33.2" y1="406.09999999999997" x2="38.0" y2="406.09999999999997" stroke="#000" stroke-width="2.5"/>
<line x1="33.2" y1="332.79999999999995" x2="38.0" y2="332.79999999999995" stroke="#000" stroke-width="2.5"/>
<line x1="33.2" y1="442.75" x2="35.900000000000006" y2="442.75" stroke="#000" stroke-width="2.5"/>
<line x1="33.2" y1="369.45" x2="35.900000000000006" y2="369.45" stroke="#000" stroke-width="2.5"/>
<line x1="33.2" y1="296.15" x2="35.900000000000006" y2="296.15" stroke="#000" stroke-width="2.5"/>
<line x1="307.3" y1="406.09999999999997" x2="302.5" y2="406.09999999999997" stroke="#000" stroke-width="2.5"/>
<line x1="307.3" y1="332.79999999999995" x2="302.5" y2="332.79999999999995" stroke="#000" stroke-width="2.5"/>
<line x1="307.3" y1="442.75" x2="304.6" y2="442.75" stroke="#000" stroke-width="2.5"/>
<line x1="307.3" y1="369.45" x2="304.6" y2="369.45" stroke="#000" stroke-width="2.5"/>
<line x1="307.3" y1="296.15" x2="304.6" y2="296.15" stroke="#000" stroke-width="2.5"/>
<text x="100.30000000000001" y="495.0" font-size="14" text-anchor="middle" font-weight="bold" font-family='"Liberation Serif", serif' >2</text>
<text x="175.5" y="495.0" font-size="14" text-anchor="middle" font-weight="bold" font-family='"Liberation Serif", serif' >4</text>
<text x="250.70000000000002" y="495.0" font-size="14" text-anchor="middle" font-weight="bold" font-family='"Liberation Serif", serif' >6</text>
<text x="28.200000000000003" y="484.15999999999997" font-size="14" text-anchor="end" font-weight="bold" font-family='"Liberation Serif", serif' >0</text>
<text x="28.200000000000003" y="410.85999999999996" font-size="14" text-anchor="end" font-weight="bold" font-family='"Liberation Serif", serif' >1</text>
<text x="28.200000000000003" y="337.55999999999995" font-size="14" text-anchor="end" font-weight="bold" font-family='"Liberation Serif", serif' >2</text>
<text x="28.200000000000003" y="264.26" font-size="14" text-anchor="end" font-weight="bold" font-family='"Liberation Serif", serif' >3</text>
<text x="312.0" y="484.15999999999997" font-size="14" text-anchor="start" font-weight="bold" font-family='"Liberation Serif", serif' >0</text>
<text x="312.0" y="410.85999999999996" font-size="14" text-anchor="start" font-weight="bold" font-family='"Liberation Serif", serif' >2</text>
<text x="312.0" y="337.55999999999995" font-size="14" text-anchor="start" font-weight="bold" font-family='"Liberation Serif", serif' >4</text>
<text x="312.0" y="264.26" font-size="14" text-anchor="start" font-weight="bold" font-family='"Liberation Serif", serif' >6</text>
<rect x="33.2" y="259.5" width="274.1" height="219.89999999999998" fill="none" stroke="#000" stroke-width="2.4"/>
<path d="M387.4,445.4 C387.7,446.3 388.6,451.1 389.3,451.0 C390.0,450.9 391.1,446.8 391.8,444.9 C392.5,443.0 393.1,441.4 393.7,439.8 C394.3,438.2 395.0,436.6 395.7,435.0 C396.4,433.4 397.2,431.8 397.9,430.2 C398.5,428.6 398.9,427.0 399.6,425.4 C400.3,423.8 401.3,422.2 402.1,420.6 C402.9,419.0 403.5,417.4 404.2,415.8 C404.9,414.2 405.6,412.8 406.4,411.2 C407.2,409.6 408.0,408.1 408.8,406.5 C409.6,404.9 410.2,403.4 411.0,401.8 C411.8,400.2 412.6,398.6 413.5,397.1 C414.4,395.6 415.4,394.2 416.4,392.7 C417.4,391.2 418.6,389.6 419.5,388.1 C420.4,386.6 421.2,385.2 422.1,383.8 C423.0,382.4 423.8,381.0 424.7,379.6 C425.6,378.2 426.5,376.8 427.5,375.4 C428.5,374.0 429.8,372.5 430.8,371.1 C431.8,369.7 432.5,368.6 433.6,367.2 C434.7,365.8 436.0,364.4 437.4,363.0 C438.8,361.6 440.3,360.2 441.7,359.0 C443.1,357.8 444.4,356.6 445.8,355.5 C447.2,354.4 448.8,353.3 450.4,352.4 C452.0,351.5 453.7,350.6 455.4,350.0 C457.1,349.4 458.9,348.9 460.6,348.5 C462.3,348.1 463.9,348.0 465.6,347.9 C467.3,347.8 469.1,348.0 470.8,348.1 C472.6,348.2 474.4,348.4 476.1,348.7 C477.8,349.0 479.4,349.7 481.0,350.2 C482.6,350.7 484.4,351.3 486.0,351.9 C487.6,352.4 489.1,352.9 490.7,353.5 C492.3,354.1 494.1,355.1 495.7,355.8 C497.3,356.5 498.9,356.9 500.5,357.7 C502.1,358.5 503.6,359.6 505.2,360.6 C506.8,361.6 508.5,362.5 510.0,363.5 C511.5,364.5 513.0,365.5 514.4,366.5 C515.8,367.5 517.0,368.6 518.4,369.7 C519.8,370.8 521.4,372.1 522.7,373.3 C524.0,374.5 525.2,375.8 526.4,377.0 C527.6,378.2 528.8,379.4 530.0,380.6 C531.2,381.8 532.3,383.1 533.5,384.4 C534.7,385.7 535.9,387.1 537.1,388.5 C538.3,389.9 539.4,391.2 540.5,392.5 C541.6,393.8 542.9,395.1 544.0,396.4 C545.1,397.7 546.1,399.1 547.3,400.4 C548.5,401.7 549.8,402.8 551.0,404.0 C552.2,405.2 553.3,406.6 554.5,407.9 C555.7,409.1 556.9,410.2 558.1,411.5 C559.3,412.8 560.6,414.2 561.8,415.5 C563.0,416.8 564.0,417.9 565.3,419.2 C566.5,420.5 568.0,421.8 569.3,423.1 C570.6,424.4 571.7,425.7 572.9,427.0 C574.1,428.3 575.4,429.7 576.6,431.0 C577.9,432.3 579.1,433.6 580.4,434.9 C581.6,436.2 582.9,437.6 584.1,438.9 C585.3,440.2 586.4,441.2 587.4,442.7 C588.4,444.1 588.5,445.4 590.4,447.6 C592.3,449.8 596.1,453.2 598.9,456.0 C601.7,458.8 604.6,461.7 607.4,464.5 C610.2,467.3 614.4,471.6 615.8,473.0" fill="none" stroke="#B5A21F" stroke-width="2.6" stroke-linecap="round" stroke-linejoin="round" stroke-dasharray="0 5.3"/>
<path d="M388.5,449.7 C388.6,449.7 388.8,450.6 389.3,449.5 C389.8,448.4 390.9,444.8 391.5,442.9 C392.1,441.0 392.6,439.8 393.1,438.1 C393.6,436.5 394.1,434.7 394.6,433.0 C395.1,431.3 395.5,429.5 396.1,427.8 C396.7,426.1 397.4,424.5 398.1,422.8 C398.8,421.1 399.5,419.4 400.1,417.7 C400.7,416.0 401.1,414.5 401.6,412.9 C402.2,411.3 402.8,409.7 403.4,408.1 C404.0,406.5 404.5,404.7 405.1,403.1 C405.7,401.5 406.4,400.0 407.0,398.4 C407.6,396.8 408.3,395.0 409.0,393.4 C409.7,391.8 410.4,390.1 411.0,388.5 C411.6,386.9 412.2,385.4 412.9,383.8 C413.6,382.2 414.5,380.7 415.3,379.2 C416.1,377.7 416.9,376.2 417.7,374.6 C418.5,373.0 419.2,371.4 420.0,369.8 C420.8,368.2 421.5,366.6 422.3,365.0 C423.1,363.4 423.9,361.7 424.7,360.1 C425.5,358.5 426.5,356.9 427.3,355.3 C428.1,353.7 428.7,352.3 429.5,350.7 C430.3,349.1 431.4,347.4 432.3,345.9 C433.2,344.4 434.0,343.0 434.9,341.5 C435.8,340.0 437.0,338.3 437.9,336.8 C438.8,335.3 439.6,333.8 440.5,332.4 C441.4,331.0 442.3,329.8 443.4,328.4 C444.5,327.0 445.8,325.4 446.9,324.0 C448.0,322.6 448.7,321.5 449.8,320.2 C450.9,318.9 452.1,317.5 453.3,316.2 C454.5,314.9 455.9,313.8 457.1,312.6 C458.3,311.4 459.3,310.2 460.6,309.1 C461.9,308.0 463.4,306.8 464.7,305.9 C466.0,304.9 467.1,304.2 468.5,303.4 C469.9,302.6 471.6,301.6 473.2,300.9 C474.8,300.2 476.7,299.8 478.4,299.3 C480.1,298.9 481.8,298.6 483.4,298.2 C485.0,297.8 486.6,297.3 488.3,296.9 C490.0,296.5 491.9,296.2 493.6,296.0 C495.4,295.8 496.2,295.7 498.8,295.4 C501.4,295.1 506.2,294.1 509.1,294.2 C512.0,294.3 513.9,295.2 516.0,295.8 C518.1,296.4 520.2,296.9 522.0,297.6 C523.8,298.4 525.3,299.1 526.8,300.3 C528.3,301.5 529.5,303.3 530.8,304.7 C532.1,306.1 533.2,307.3 534.4,308.6 C535.6,309.9 536.8,311.2 538.0,312.5 C539.2,313.8 540.2,315.0 541.4,316.4 C542.5,317.8 543.8,319.4 544.9,320.8 C546.0,322.2 547.2,323.4 548.3,324.7 C549.3,326.0 550.2,327.4 551.2,328.8 C552.2,330.2 553.5,331.6 554.6,332.9 C555.7,334.2 556.7,335.4 557.8,336.8 C558.9,338.2 559.9,339.7 561.0,341.2 C562.1,342.7 563.2,344.1 564.3,345.6 C565.3,347.1 566.3,348.6 567.3,350.0 C568.3,351.4 569.5,352.9 570.5,354.3 C571.5,355.8 572.4,357.2 573.3,358.7 C574.2,360.2 575.1,361.6 576.0,363.1 C576.9,364.6 577.9,366.0 578.9,367.5 C579.9,369.0 580.9,370.7 581.9,372.3 C582.9,373.9 583.8,375.4 584.8,377.0 C585.8,378.6 586.1,378.7 587.7,381.6 C589.4,384.5 592.1,390.0 594.7,394.6 C597.3,399.2 600.3,404.6 603.1,409.5 C605.9,414.4 608.8,419.7 611.6,424.3 C614.4,428.9 617.3,432.8 620.1,437.0 C622.9,441.2 625.7,445.5 628.5,449.7 C631.3,453.9 634.0,458.3 637.0,462.4 C640.0,466.4 644.9,472.1 646.5,474.0" fill="none" stroke="#009600" stroke-width="2.6" stroke-linecap="round" stroke-linejoin="round" stroke-dasharray="0 5.3"/>
<path d="M385.3,450.7 C385.4,450.8 385.5,451.9 386.0,451.0 C386.5,450.1 387.5,447.1 388.3,445.3 C389.1,443.6 389.9,442.1 390.7,440.5 C391.5,438.9 392.3,437.5 393.1,435.9 C393.9,434.3 394.7,432.7 395.5,431.1 C396.3,429.5 396.9,427.9 397.9,426.3 C398.9,424.7 400.4,423.0 401.4,421.5 C402.3,420.0 402.7,418.8 403.6,417.5 C404.5,416.2 405.7,415.2 406.9,414.0 C408.1,412.8 409.2,412.5 411.0,410.5 C412.8,408.5 416.0,404.2 417.7,402.2 C419.4,400.1 419.7,399.4 421.0,398.2 C422.3,397.0 424.3,396.0 425.6,394.9 C426.9,393.8 426.2,392.0 428.7,391.5 C431.1,391.0 438.3,391.9 440.3,392.1 C442.3,392.3 439.8,392.1 440.7,392.5 C441.6,392.9 444.3,393.8 445.9,394.5 C447.5,395.2 449.0,396.0 450.5,396.8 C452.0,397.6 453.3,398.5 454.7,399.4 C456.1,400.3 457.7,401.3 459.1,402.3 C460.6,403.3 461.9,404.2 463.4,405.2 C464.9,406.2 466.4,407.3 467.9,408.3 C469.4,409.3 470.7,410.3 472.2,411.3 C473.7,412.3 475.3,413.2 476.8,414.2 C478.3,415.2 479.6,416.2 481.0,417.2 C482.4,418.2 483.9,419.1 485.3,420.1 C486.8,421.1 488.2,422.1 489.7,423.1 C491.2,424.1 492.8,425.2 494.1,426.3 C495.5,427.4 496.5,428.6 497.8,429.7 C499.1,430.8 501.1,432.7 501.8,433.2 C502.5,433.7 501.3,432.2 502.0,432.8 C502.7,433.4 504.6,435.5 505.9,436.8 C507.2,438.1 508.6,439.4 509.9,440.7 C511.2,442.0 512.5,443.2 513.8,444.4 C515.1,445.6 516.5,446.9 517.7,448.1 C519.0,449.3 520.1,450.4 521.3,451.6 C522.5,452.9 523.8,454.3 525.0,455.6 C526.2,456.9 527.4,458.2 528.6,459.5 C529.8,460.8 531.0,462.1 532.2,463.4 C533.4,464.7 534.5,466.1 535.7,467.4 C536.9,468.7 538.4,470.1 539.4,471.3 C540.4,472.5 541.6,474.0 542.0,474.5" fill="none" stroke="#BE5A14" stroke-width="2.6" stroke-linecap="round" stroke-linejoin="round" stroke-dasharray="0 5.3"/>
<path d="M386.3,467.5 C386.7,466.6 387.8,463.7 388.5,462.0 C389.2,460.3 389.8,458.9 390.5,457.3 C391.2,455.7 391.8,454.0 392.5,452.4 C393.2,450.8 393.9,449.3 394.6,447.7 C395.3,446.1 396.0,444.4 396.8,442.9 C397.6,441.4 398.5,439.9 399.4,438.5 C400.3,437.1 401.2,435.9 402.3,434.4 C403.4,432.9 404.8,430.8 405.8,429.3 C406.8,427.8 407.6,426.6 408.4,425.2 C409.2,423.8 410.4,422.2 410.8,420.9 C411.2,419.6 410.3,418.6 410.9,417.5 C411.5,416.4 413.3,415.5 414.5,414.5 C415.7,413.5 416.7,412.5 417.9,411.5 C419.1,410.5 420.5,409.3 421.8,408.3 C423.1,407.3 424.3,406.3 425.8,405.4 C427.3,404.4 429.2,403.3 431.0,402.6 C432.8,401.9 434.6,401.5 436.3,401.2 C438.0,400.9 439.7,400.7 441.3,401.0 C442.9,401.3 444.4,402.3 445.9,403.0 C447.4,403.7 449.0,404.2 450.5,405.0 C452.0,405.8 453.6,406.6 455.1,407.6 C456.6,408.6 458.1,409.9 459.4,411.1 C460.7,412.3 461.8,413.5 463.0,414.8 C464.2,416.1 465.6,417.7 466.9,419.0 C468.1,420.3 469.3,421.4 470.5,422.7 C471.7,424.0 472.8,425.5 473.9,426.9 C474.9,428.3 475.9,429.7 476.8,431.2 C477.7,432.7 478.5,434.3 479.4,435.8 C480.3,437.3 481.3,438.9 482.3,440.4 C483.3,441.9 484.4,443.5 485.3,445.0 C486.2,446.5 487.1,448.1 488.0,449.6 C488.9,451.1 489.7,452.7 490.6,454.2 C491.5,455.7 492.3,457.3 493.2,458.8 C494.1,460.3 494.9,461.5 495.8,463.0 C496.7,464.5 497.7,466.3 498.5,467.8 C499.3,469.3 500.2,471.0 500.7,472.0 C501.2,473.0 501.5,473.7 501.7,474.0" fill="none" stroke="#64003C" stroke-width="2.6" stroke-linecap="round" stroke-linejoin="round" stroke-dasharray="0 5.3"/>
<path d="M389.6,375.9 C390.2,376.3 392.2,377.7 393.5,378.6 C394.8,379.5 396.0,380.3 397.5,381.2 C399.0,382.1 400.8,383.3 402.4,384.2 C403.9,385.1 405.4,385.8 406.8,386.6 C408.2,387.4 409.7,388.2 411.1,388.8 C412.6,389.4 414.0,390.1 415.5,390.5 C417.0,390.9 417.8,390.9 419.9,391.0 C422.0,391.1 424.1,390.9 428.0,390.8 C431.9,390.7 437.4,390.8 443.5,390.4 C449.6,390.0 457.6,389.4 464.7,388.7 C471.8,388.0 480.8,386.9 485.8,386.2 C490.9,385.5 491.0,385.1 495.0,384.3 C499.0,383.5 504.7,382.6 509.6,381.4 C514.5,380.2 519.3,378.6 524.2,377.0 C529.1,375.4 533.9,373.7 538.8,371.9 C543.7,370.1 548.5,368.2 553.4,366.0 C558.3,363.8 563.1,361.2 568.0,358.7 C572.9,356.1 578.1,353.3 582.6,350.7 C587.1,348.1 592.2,345.0 595.0,343.2 C597.8,341.4 596.9,341.0 599.6,339.9 C602.3,338.8 607.8,335.9 611.1,336.4 C614.4,336.9 617.1,340.0 619.4,342.8 C621.6,345.6 622.9,349.1 624.6,353.2 C626.3,357.3 628.0,362.2 629.7,367.7 C631.4,373.2 633.2,379.8 634.9,386.3 C636.6,392.9 638.5,400.1 640.1,407.0 C641.7,413.9 642.8,420.1 644.2,427.7 C645.6,435.3 647.4,445.0 648.4,452.6 C649.4,460.2 650.0,469.4 650.4,473.3 C650.8,477.2 650.9,475.6 651.0,476.0" fill="none" stroke="#009600" stroke-width="2.6" stroke-linecap="round" stroke-linejoin="round"/>
<path d="M389.1,435.7 C390.3,435.9 393.8,436.4 396.1,436.8 C398.4,437.2 399.9,437.5 402.7,437.9 C405.5,438.3 409.7,438.8 413.0,439.0 C416.3,439.2 417.8,439.2 422.3,439.1 C426.8,439.0 434.9,438.7 440.0,438.5 C445.1,438.3 448.7,438.2 453.1,437.8 C457.5,437.4 461.9,436.5 466.3,435.8 C470.7,435.1 475.0,434.5 479.4,433.9 C483.8,433.2 488.2,432.7 492.6,431.9 C497.0,431.1 501.3,430.2 505.7,429.1 C510.1,428.0 514.4,426.6 518.8,425.2 C523.2,423.8 527.6,422.1 532.0,420.6 C536.4,419.1 541.6,417.3 545.0,416.1 C548.4,414.9 549.1,414.6 552.6,413.5 C556.1,412.4 562.2,410.3 565.7,409.2 C569.2,408.1 571.2,407.5 573.6,406.9 C576.0,406.3 578.2,405.7 580.2,405.6 C582.2,405.5 583.8,405.9 585.4,406.3 C587.0,406.8 588.1,406.7 590.0,408.3 C591.9,409.9 594.6,412.6 596.8,415.8 C599.0,419.0 601.0,422.8 603.1,427.4 C605.2,432.0 607.5,438.2 609.5,443.3 C611.5,448.4 613.0,452.8 614.8,458.1 C616.6,463.4 619.2,472.3 620.1,475.1" fill="none" stroke="#B5A21F" stroke-width="2.6" stroke-linecap="round" stroke-linejoin="round"/>
<path d="M385.6,446.0 C386.6,445.9 389.7,445.6 391.8,445.3 C393.9,445.0 396.3,444.6 398.3,444.4 C400.3,444.2 402.5,444.1 404.0,444.2 C405.5,444.3 405.6,444.8 407.1,445.1 C408.6,445.4 411.9,445.9 413.0,446.0 C414.1,446.1 411.3,446.3 413.9,445.9 C416.5,445.5 424.3,444.1 428.7,443.7 C433.1,443.3 435.9,444.3 440.0,443.7 C444.1,443.1 448.7,441.4 453.1,440.2 C457.5,438.9 461.9,437.6 466.3,436.2 C470.7,434.8 475.0,433.4 479.4,431.9 C483.8,430.4 489.0,428.4 492.6,427.3 C496.2,426.2 499.0,425.9 501.3,425.2 C503.6,424.5 504.6,423.8 506.6,423.4 C508.6,423.0 511.1,422.7 513.1,422.7 C515.1,422.7 516.8,423.0 518.4,423.6 C520.0,424.2 521.6,425.3 523.0,426.6 C524.4,427.9 525.7,429.6 526.9,431.2 C528.1,432.8 529.1,434.5 530.2,436.5 C531.3,438.5 532.4,440.7 533.5,443.1 C534.6,445.5 535.7,448.1 536.8,451.0 C537.9,453.9 539.1,457.1 540.1,460.2 C541.1,463.3 542.1,466.9 542.7,469.4 C543.4,471.9 543.8,474.3 544.0,475.3" fill="none" stroke="#BE5A14" stroke-width="2.6" stroke-linecap="round" stroke-linejoin="round"/>
<path d="M384.5,373.0 C384.8,373.0 385.4,373.2 386.1,372.8 C386.9,372.4 388.0,371.3 389.0,370.5 C390.0,369.7 391.2,368.9 392.3,368.2 C393.4,367.5 394.4,366.8 395.5,366.3 C396.6,365.8 397.6,365.0 398.8,365.0 C400.1,365.0 401.5,365.8 403.0,366.3 C404.5,366.8 406.3,367.9 407.6,368.0 C408.9,368.1 409.8,367.3 411.0,366.9 C412.2,366.4 412.9,366.4 415.0,365.3 C417.1,364.2 421.3,361.8 423.8,360.1 C426.3,358.4 427.8,357.0 430.0,355.3 C432.2,353.6 434.7,351.8 437.0,349.7 C439.3,347.6 441.7,345.2 444.0,342.7 C446.3,340.2 448.9,337.2 451.0,334.5 C453.1,331.8 454.9,329.2 456.8,326.3 C458.8,323.4 460.8,320.3 462.7,317.0 C464.6,313.7 466.8,309.8 468.5,306.5 C470.2,303.2 471.6,300.3 473.2,297.2 C474.8,294.1 476.4,290.3 477.8,287.8 C479.2,285.3 480.3,283.2 481.3,282.0 C482.3,280.8 482.8,280.3 483.7,280.3 C484.6,280.3 485.7,280.9 486.6,282.0 C487.5,283.1 488.2,284.6 488.9,286.7 C489.6,288.8 490.2,291.9 490.7,294.8 C491.2,297.7 491.4,300.7 491.8,304.2 C492.2,307.7 492.6,311.7 493.0,315.8 C493.4,319.9 493.8,324.2 494.2,328.7 C494.6,333.2 494.9,338.0 495.3,342.7 C495.7,347.4 496.2,353.0 496.5,356.7 C496.8,360.4 496.9,363.0 497.1,365.1 C497.3,367.2 497.3,364.0 497.5,369.3 C497.7,374.6 498.0,385.2 498.5,396.8 C499.0,408.4 500.0,426.1 500.7,439.1 C501.4,452.2 502.4,469.1 502.8,475.1" fill="none" stroke="#64003C" stroke-width="2.6" stroke-linecap="round" stroke-linejoin="round"/>
<ellipse cx="407.5" cy="413.7" rx="8.7" ry="18" fill="none" stroke="#000" stroke-width="1.8"/>
<line x1="416" y1="415.1" x2="446.9" y2="415.1" stroke="#000" stroke-width="1.75"/>
<path d="M461.2,415.1 L445.9,411.40000000000003 L446.5,415.1 L445.9,418.8 Z" fill="#000"/>
<line x1="505.1" y1="267.7" x2="526.1" y2="267.7" stroke="#B5A21F" stroke-width="2.6" stroke-dasharray="0 5.22" stroke-linecap="round"/>
<line x1="533.5" y1="267.7" x2="556.8" y2="267.7" stroke="#B5A21F" stroke-width="3" stroke-linecap="round"/>
<line x1="505.1" y1="282.1" x2="526.1" y2="282.1" stroke="#009600" stroke-width="2.6" stroke-dasharray="0 5.22" stroke-linecap="round"/>
<line x1="533.5" y1="282.1" x2="556.8" y2="282.1" stroke="#009600" stroke-width="3" stroke-linecap="round"/>
<line x1="505.1" y1="296.7" x2="526.1" y2="296.7" stroke="#BE5A14" stroke-width="2.6" stroke-dasharray="0 5.22" stroke-linecap="round"/>
<line x1="533.5" y1="296.7" x2="556.8" y2="296.7" stroke="#BE5A14" stroke-width="3" stroke-linecap="round"/>
<line x1="505.1" y1="311.2" x2="526.1" y2="311.2" stroke="#64003C" stroke-width="2.6" stroke-dasharray="0 5.22" stroke-linecap="round"/>
<line x1="533.5" y1="311.2" x2="556.8" y2="311.2" stroke="#64003C" stroke-width="3" stroke-linecap="round"/>
<text x="559.3" y="271.3" font-size="11" text-anchor="start" font-weight="bold" font-family='"Liberation Serif", serif'  textLength="90.5" lengthAdjust="spacingAndGlyphs">Batch 1.2 (<tspan font-style="italic">t</tspan><tspan font-style="italic" font-size="8" dy="2">c</tspan><tspan dy="-2">=100nm)</tspan></text>
<text x="559.3" y="285.70000000000005" font-size="11" text-anchor="start" font-weight="bold" font-family='"Liberation Serif", serif'  textLength="90.5" lengthAdjust="spacingAndGlyphs">Batch 1.3 (<tspan font-style="italic">t</tspan><tspan font-style="italic" font-size="8" dy="2">c</tspan><tspan dy="-2">=100nm)</tspan></text>
<text x="559.3" y="300.3" font-size="11" text-anchor="start" font-weight="bold" font-family='"Liberation Serif", serif'  textLength="85.5" lengthAdjust="spacingAndGlyphs">Batch 2.5 (<tspan font-style="italic">t</tspan><tspan font-style="italic" font-size="8" dy="2">c</tspan><tspan dy="-2">=75nm)</tspan></text>
<text x="559.3" y="314.8" font-size="11" text-anchor="start" font-weight="bold" font-family='"Liberation Serif", serif'  textLength="85.5" lengthAdjust="spacingAndGlyphs">Batch 2.6 (<tspan font-style="italic">t</tspan><tspan font-style="italic" font-size="8" dy="2">c</tspan><tspan dy="-2">=75nm)</tspan></text>
<text x="385.6" y="280.2" font-size="14" text-anchor="start" font-weight="bold" font-family='"Liberation Sans", sans-serif' >d</text>
<text x="355" y="368" font-size="13" text-anchor="middle" font-weight="bold" font-family='"Liberation Serif", serif' transform="rotate(-90 355 368)"  textLength="34.7" lengthAdjust="spacingAndGlyphs">L(nH)</text>
<text x="679.2" y="368" font-size="13.1" text-anchor="middle" font-weight="bold" font-family='"Liberation Serif", serif' transform="rotate(-90 679.2 368)"  textLength="46.1" lengthAdjust="spacingAndGlyphs"><tspan font-style="italic">Q</tspan> factor</text>
<text x="517.2" y="508.3" font-size="13.4" text-anchor="middle" font-weight="bold" font-family='"Liberation Serif", serif' >Frequency(GHz)</text>
<line x1="459.56" y1="476.3" x2="459.56" y2="471.5" stroke="#000" stroke-width="2.5"/>
<line x1="459.56" y1="260.2" x2="459.56" y2="265.0" stroke="#000" stroke-width="2.5"/>
<line x1="536.42" y1="476.3" x2="536.42" y2="471.5" stroke="#000" stroke-width="2.5"/>
<line x1="536.42" y1="260.2" x2="536.42" y2="265.0" stroke="#000" stroke-width="2.5"/>
<line x1="613.28" y1="476.3" x2="613.28" y2="471.5" stroke="#000" stroke-width="2.5"/>
<line x1="613.28" y1="260.2" x2="613.28" y2="265.0" stroke="#000" stroke-width="2.5"/>
<line x1="421.13" y1="476.3" x2="421.13" y2="473.6" stroke="#000" stroke-width="2.5"/>
<line x1="421.13" y1="260.2" x2="421.13" y2="262.9" stroke="#000" stroke-width="2.5"/>
<line x1="497.99" y1="476.3" x2="497.99" y2="473.6" stroke="#000" stroke-width="2.5"/>
<line x1="497.99" y1="260.2" x2="497.99" y2="262.9" stroke="#000" stroke-width="2.5"/>
<line x1="574.85" y1="476.3" x2="574.85" y2="473.6" stroke="#000" stroke-width="2.5"/>
<line x1="574.85" y1="260.2" x2="574.85" y2="262.9" stroke="#000" stroke-width="2.5"/>
<line x1="382.7" y1="440.285" x2="387.5" y2="440.285" stroke="#000" stroke-width="2.5"/>
<line x1="382.7" y1="404.27" x2="387.5" y2="404.27" stroke="#000" stroke-width="2.5"/>
<line x1="382.7" y1="368.255" x2="387.5" y2="368.255" stroke="#000" stroke-width="2.5"/>
<line x1="382.7" y1="332.24" x2="387.5" y2="332.24" stroke="#000" stroke-width="2.5"/>
<line x1="382.7" y1="296.225" x2="387.5" y2="296.225" stroke="#000" stroke-width="2.5"/>
<line x1="382.7" y1="260.21000000000004" x2="387.5" y2="260.21000000000004" stroke="#000" stroke-width="2.5"/>
<line x1="382.7" y1="458.2925" x2="385.4" y2="458.2925" stroke="#000" stroke-width="2.5"/>
<line x1="382.7" y1="422.27750000000003" x2="385.4" y2="422.27750000000003" stroke="#000" stroke-width="2.5"/>
<line x1="382.7" y1="386.26250000000005" x2="385.4" y2="386.26250000000005" stroke="#000" stroke-width="2.5"/>
<line x1="382.7" y1="350.2475" x2="385.4" y2="350.2475" stroke="#000" stroke-width="2.5"/>
<line x1="382.7" y1="314.2325" x2="385.4" y2="314.2325" stroke="#000" stroke-width="2.5"/>
<line x1="382.7" y1="278.2175" x2="385.4" y2="278.2175" stroke="#000" stroke-width="2.5"/>
<line x1="651.7" y1="440.28000000000003" x2="646.9000000000001" y2="440.28000000000003" stroke="#000" stroke-width="2.5"/>
<line x1="651.7" y1="404.26" x2="646.9000000000001" y2="404.26" stroke="#000" stroke-width="2.5"/>
<line x1="651.7" y1="368.24" x2="646.9000000000001" y2="368.24" stroke="#000" stroke-width="2.5"/>
<line x1="651.7" y1="332.22" x2="646.9000000000001" y2="332.22" stroke="#000" stroke-width="2.5"/>
<line x1="651.7" y1="296.2" x2="646.9000000000001" y2="296.2" stroke="#000" stroke-width="2.5"/>
<line x1="651.7" y1="458.29" x2="649.0" y2="458.29" stroke="#000" stroke-width="2.5"/>
<line x1="651.7" y1="422.27" x2="649.0" y2="422.27" stroke="#000" stroke-width="2.5"/>
<line x1="651.7" y1="386.25" x2="649.0" y2="386.25" stroke="#000" stroke-width="2.5"/>
<line x1="651.7" y1="350.23" x2="649.0" y2="350.23" stroke="#000" stroke-width="2.5"/>
<line x1="651.7" y1="314.21000000000004" x2="649.0" y2="314.21000000000004" stroke="#000" stroke-width="2.5"/>
<line x1="651.7" y1="278.19" x2="649.0" y2="278.19" stroke="#000" stroke-width="2.5"/>
<text x="382.7" y="491.90000000000003" font-size="14" text-anchor="middle" font-weight="bold" font-family='"Liberation Serif", serif' >0</text>
<text x="459.56" y="491.90000000000003" font-size="14" text-anchor="middle" font-weight="bold" font-family='"Liberation Serif", serif' >2</text>
<text x="536.42" y="491.90000000000003" font-size="14" text-anchor="middle" font-weight="bold" font-family='"Liberation Serif", serif' >4</text>
<text x="613.28" y="491.90000000000003" font-size="14" text-anchor="middle" font-weight="bold" font-family='"Liberation Serif", serif' >6</text>
<text x="377.7" y="481.06" font-size="14" text-anchor="end" font-weight="bold" font-family='"Liberation Serif", serif' >0.0</text>
<text x="377.7" y="445.045" font-size="14" text-anchor="end" font-weight="bold" font-family='"Liberation Serif", serif' >0.5</text>
<text x="377.7" y="409.03" font-size="14" text-anchor="end" font-weight="bold" font-family='"Liberation Serif", serif' >1.0</text>
<text x="377.7" y="373.015" font-size="14" text-anchor="end" font-weight="bold" font-family='"Liberation Serif", serif' >1.5</text>
<text x="377.7" y="337.0" font-size="14" text-anchor="end" font-weight="bold" font-family='"Liberation Serif", serif' >2.0</text>
<text x="377.7" y="300.985" font-size="14" text-anchor="end" font-weight="bold" font-family='"Liberation Serif", serif' >2.5</text>
<text x="377.7" y="264.97" font-size="14" text-anchor="end" font-weight="bold" font-family='"Liberation Serif", serif' >3.0</text>
<text x="656.4000000000001" y="481.06" font-size="14" text-anchor="start" font-weight="bold" font-family='"Liberation Serif", serif' >0</text>
<text x="656.4000000000001" y="445.04" font-size="14" text-anchor="start" font-weight="bold" font-family='"Liberation Serif", serif' >1</text>
<text x="656.4000000000001" y="409.02" font-size="14" text-anchor="start" font-weight="bold" font-family='"Liberation Serif", serif' >2</text>
<text x="656.4000000000001" y="373.0" font-size="14" text-anchor="start" font-weight="bold" font-family='"Liberation Serif", serif' >3</text>
<text x="656.4000000000001" y="336.98" font-size="14" text-anchor="start" font-weight="bold" font-family='"Liberation Serif", serif' >4</text>
<text x="656.4000000000001" y="300.96" font-size="14" text-anchor="start" font-weight="bold" font-family='"Liberation Serif", serif' >5</text>
<text x="656.4000000000001" y="264.94" font-size="14" text-anchor="start" font-weight="bold" font-family='"Liberation Serif", serif' >6</text>
<rect x="382.7" y="260.2" width="269.00000000000006" height="216.10000000000002" fill="none" stroke="#000" stroke-width="2.4"/>
<path d="M33.5,686.6 C34.0,685.9 35.3,684.0 36.4,682.6 C37.5,681.2 39.0,679.6 40.2,678.2 C41.4,676.8 42.5,675.5 43.7,674.1 C44.9,672.8 46.1,671.5 47.3,670.1 C48.5,668.7 49.6,667.3 50.8,665.9 C52.0,664.5 53.1,662.9 54.3,661.5 C55.4,660.1 56.5,659.1 57.7,657.7 C58.9,656.4 60.1,654.9 61.3,653.4 C62.5,651.9 63.5,650.3 64.7,648.9 C65.9,647.5 67.3,646.1 68.5,644.8 C69.7,643.5 70.8,642.2 72.0,640.9 C73.2,639.5 74.4,638.1 75.5,636.7 C76.6,635.3 77.6,633.8 78.8,632.3 C80.0,630.8 81.4,629.2 82.6,627.7 C83.8,626.2 85.1,624.6 86.2,623.3 C87.3,621.9 87.6,621.7 89.1,619.6 C90.5,617.5 93.5,613.1 94.9,610.8 C96.4,608.5 96.8,607.6 97.8,606.0 C98.8,604.4 99.8,602.9 100.8,601.4 C101.8,599.9 102.7,598.2 103.7,596.7 C104.7,595.2 105.6,593.6 106.6,592.1 C107.6,590.6 108.7,589.2 109.8,587.7 C110.9,586.2 111.9,584.8 113.0,583.4 C114.1,582.0 115.1,580.8 116.3,579.5 C117.5,578.2 119.0,576.9 120.4,575.7 C121.9,574.5 123.4,573.2 125.0,572.2 C126.6,571.2 128.3,570.1 130.0,569.4 C131.7,568.7 133.4,568.3 135.2,568.1 C137.0,567.9 138.9,568.1 140.7,568.4 C142.4,568.6 144.0,569.0 145.7,569.6 C147.4,570.2 149.4,571.3 151.0,572.3 C152.6,573.3 153.7,574.3 155.1,575.4 C156.5,576.5 157.9,577.5 159.2,578.6 C160.5,579.7 162.3,581.6 163.0,582.1 C163.7,582.6 162.4,581.3 163.1,581.9 C163.8,582.5 165.8,584.5 167.1,585.7 C168.4,586.9 169.7,588.0 171.2,589.1 C172.7,590.2 174.5,591.5 176.0,592.5 C177.5,593.5 178.6,594.4 180.1,595.2 C181.6,596.0 183.3,596.6 184.8,597.2 C186.3,597.8 187.5,598.3 189.0,598.8 C190.5,599.3 191.4,599.1 193.7,600.0 C196.0,600.9 200.2,602.8 202.8,604.1 C205.4,605.4 207.2,606.7 209.4,608.0 C211.6,609.3 213.8,610.5 216.0,611.9 C218.2,613.3 220.4,614.6 222.6,616.5 C224.8,618.4 226.9,620.9 229.1,623.1 C231.3,625.3 233.5,627.3 235.7,629.7 C237.9,632.1 240.1,634.8 242.3,637.6 C244.5,640.5 246.4,643.4 248.8,646.8 C251.2,650.2 254.7,653.9 256.9,658.0 C259.1,662.1 260.0,667.7 262.0,671.5 C264.0,675.3 266.7,677.9 269.0,680.9 C271.3,683.9 273.8,686.5 276.0,689.4 C278.2,692.2 280.0,695.3 282.2,698.0 C284.4,700.7 287.0,703.5 289.2,705.8 C291.4,708.1 293.3,710.1 295.4,712.0 C297.5,713.9 299.8,716.0 301.7,717.4 C303.6,718.8 305.7,720.0 306.5,720.5" fill="none" stroke="#F99A3A" stroke-width="2.8" stroke-linecap="round" stroke-linejoin="round" stroke-dasharray="0 5.2"/>
<path d="M33.5,690.7 C34.1,690.1 35.8,688.3 37.0,687.0 C38.2,685.7 39.4,684.2 40.7,682.9 C42.0,681.6 43.3,680.4 44.6,679.1 C45.9,677.8 47.0,676.4 48.3,675.0 C49.6,673.6 51.0,672.2 52.2,670.9 C53.4,669.6 54.5,668.4 55.7,667.1 C56.9,665.8 58.1,664.6 59.4,663.3 C60.7,662.0 62.1,660.5 63.3,659.2 C64.5,657.9 65.6,656.6 66.8,655.3 C68.0,654.0 69.1,652.7 70.3,651.4 C71.5,650.1 72.8,648.8 74.0,647.5 C75.2,646.2 76.4,644.8 77.6,643.4 C78.8,642.0 80.2,640.6 81.4,639.3 C82.6,638.0 83.7,636.9 84.9,635.5 C86.1,634.1 87.2,632.8 88.4,631.2 C89.6,629.7 90.5,628.4 92.0,626.2 C93.5,624.0 95.8,620.4 97.2,618.2 C98.6,616.0 99.1,614.3 100.2,612.8 C101.3,611.2 102.6,610.2 103.7,608.9 C104.8,607.6 105.6,606.3 106.6,604.9 C107.6,603.5 108.8,602.0 109.9,600.5 C111.0,599.0 112.2,597.5 113.3,596.2 C114.4,594.9 115.5,593.9 116.8,592.6 C118.1,591.3 119.7,589.9 121.2,588.6 C122.7,587.4 124.3,586.2 125.9,585.1 C127.5,584.0 129.2,583.0 130.9,582.3 C132.6,581.6 134.3,581.1 136.0,580.7 C137.7,580.3 139.6,580.2 141.3,580.1 C143.1,580.0 144.8,580.1 146.5,580.3 C148.2,580.5 149.7,581.0 151.3,581.5 C152.9,582.0 154.3,582.7 155.9,583.4 C157.5,584.1 159.8,585.2 160.7,585.6 C161.5,586.0 160.2,585.2 161.0,585.7 C161.8,586.2 164.2,587.5 165.8,588.4 C167.4,589.3 169.0,590.2 170.5,591.1 C172.0,592.0 173.1,593.0 174.6,593.8 C176.1,594.6 177.9,595.3 179.4,595.9 C180.9,596.5 181.9,596.8 183.5,597.2 C185.1,597.7 187.1,598.0 188.9,598.6 C190.7,599.2 192.6,599.9 194.3,600.6 C196.0,601.3 197.5,601.9 199.1,602.7 C200.7,603.5 202.1,604.4 203.8,605.4 C205.5,606.4 207.3,607.3 209.3,608.6 C211.3,609.9 213.8,611.4 216.0,613.0 C218.2,614.6 220.4,616.6 222.6,618.5 C224.8,620.4 226.9,622.3 229.1,624.5 C231.3,626.7 233.5,629.0 235.7,631.5 C237.9,634.0 240.1,636.7 242.3,639.5 C244.5,642.3 246.4,645.0 248.8,648.5 C251.2,652.0 253.9,655.8 256.9,660.5 C259.9,665.2 263.6,671.3 267.0,676.5 C270.4,681.7 273.4,686.6 277.0,691.5 C280.6,696.4 284.5,701.6 288.5,706.0 C292.5,710.4 298.1,715.4 301.0,718.0 C303.9,720.6 305.2,720.9 306.0,721.5" fill="none" stroke="#D8566C" stroke-width="2.8" stroke-linecap="round" stroke-linejoin="round" stroke-dasharray="0 5.2"/>
<path d="M33.5,700.1 C34.1,699.6 35.9,698.0 37.2,696.9 C38.5,695.8 40.0,694.7 41.4,693.6 C42.8,692.5 44.1,691.2 45.5,690.1 C46.9,689.0 48.5,688.0 49.9,686.9 C51.3,685.8 52.5,684.6 53.9,683.5 C55.2,682.4 56.6,681.2 58.0,680.0 C59.4,678.8 60.7,677.7 62.1,676.5 C63.5,675.3 65.0,674.1 66.4,672.9 C67.8,671.7 69.2,670.3 70.6,669.1 C72.0,667.9 73.3,666.7 74.7,665.6 C76.1,664.5 77.4,663.5 78.7,662.4 C80.0,661.3 81.3,659.9 82.6,658.8 C83.9,657.6 85.2,656.7 86.4,655.5 C87.7,654.3 88.9,652.7 90.1,651.4 C91.3,650.1 92.3,649.1 93.4,647.8 C94.5,646.5 95.7,645.1 96.8,643.7 C97.9,642.3 99.2,640.8 100.3,639.3 C101.4,637.8 102.5,636.4 103.6,635.0 C104.7,633.6 105.7,632.3 106.8,630.9 C107.9,629.5 109.3,628.0 110.3,626.6 C111.3,625.2 111.7,623.8 112.9,622.5 C114.1,621.2 115.8,620.0 117.3,618.8 C118.8,617.6 121.0,615.9 121.7,615.2 C122.5,614.5 121.1,615.1 121.8,614.5 C122.5,613.9 124.5,612.6 126.1,611.6 C127.6,610.6 129.4,609.4 131.1,608.5 C132.8,607.6 134.3,606.8 136.0,606.1 C137.7,605.5 139.6,605.0 141.3,604.6 C143.1,604.2 144.8,603.7 146.5,603.5 C148.2,603.3 150.1,603.1 151.8,603.2 C153.6,603.3 155.3,603.7 157.0,604.0 C158.7,604.3 160.6,604.7 162.1,605.2 C163.6,605.7 164.5,606.3 165.8,606.8 C167.1,607.3 168.3,607.5 170.0,608.0 C171.7,608.5 173.8,609.1 176.0,609.5 C178.2,609.9 180.2,610.1 183.1,610.6 C186.0,611.1 190.4,611.8 193.7,612.6 C197.0,613.4 199.8,614.1 202.8,615.2 C205.9,616.3 209.2,617.7 212.0,619.2 C214.8,620.7 217.5,622.6 219.9,624.4 C222.3,626.1 224.3,627.7 226.5,629.7 C228.7,631.7 231.1,634.0 233.1,636.2 C235.1,638.4 236.6,640.8 238.3,642.8 C240.1,644.8 241.8,646.1 243.6,648.1 C245.3,650.1 247.1,652.0 248.8,654.6 C250.5,657.2 251.2,659.4 253.6,663.6 C256.0,667.8 261.1,676.9 263.3,679.8 C265.5,682.7 265.1,679.3 266.7,680.9 C268.3,682.5 270.8,686.7 272.9,689.4 C275.0,692.1 277.0,694.9 279.1,697.2 C281.2,699.5 283.2,701.2 285.3,703.4 C287.4,705.6 289.3,708.3 291.5,710.4 C293.7,712.5 296.1,714.1 298.5,715.9 C300.9,717.7 304.8,720.1 306.0,721.0" fill="none" stroke="#8A12AA" stroke-width="2.8" stroke-linecap="round" stroke-linejoin="round" stroke-dasharray="0 5.2"/>
<path d="M33.5,705.7 C34.2,705.2 36.2,703.8 37.6,702.8 C39.0,701.8 40.4,700.8 41.9,699.8 C43.4,698.8 44.9,697.8 46.4,696.8 C47.9,695.8 49.3,694.8 50.8,693.7 C52.2,692.7 53.7,691.6 55.1,690.5 C56.5,689.4 57.9,688.3 59.4,687.2 C60.9,686.1 62.4,685.1 63.9,684.0 C65.4,682.9 66.8,681.9 68.2,680.8 C69.7,679.7 71.1,678.7 72.6,677.6 C74.0,676.5 75.4,675.5 76.9,674.4 C78.4,673.3 79.9,672.0 81.4,670.9 C82.9,669.8 84.3,668.8 85.7,667.6 C87.1,666.4 88.5,665.2 89.8,663.9 C91.1,662.6 92.3,661.3 93.6,660.0 C94.9,658.7 96.1,657.3 97.4,655.9 C98.7,654.5 99.9,653.1 101.2,651.8 C102.5,650.4 103.8,649.1 105.0,647.8 C106.2,646.5 107.3,645.1 108.6,643.8 C109.8,642.5 111.2,641.3 112.5,640.1 C113.8,638.9 114.9,637.7 116.1,636.4 C117.3,635.1 118.4,633.6 119.8,632.2 C121.2,630.9 123.0,629.4 124.6,628.3 C126.2,627.2 127.7,626.5 129.3,625.6 C130.9,624.7 132.4,623.6 134.1,622.8 C135.8,622.0 137.5,621.3 139.2,620.7 C140.9,620.1 142.5,619.6 144.3,619.1 C146.1,618.6 148.0,618.0 149.8,617.7 C151.6,617.4 153.6,617.4 155.3,617.4 C157.0,617.4 158.2,617.6 160.0,617.6 C161.8,617.6 163.7,617.4 165.8,617.4 C167.9,617.4 169.7,617.5 172.6,617.6 C175.5,617.8 179.1,618.3 183.1,618.3 C187.1,618.3 192.4,617.9 196.3,617.8 C200.2,617.7 203.7,617.3 206.8,617.6 C209.9,617.9 212.1,618.6 214.7,619.4 C217.3,620.1 220.2,621.1 222.6,622.1 C225.0,623.1 226.9,623.7 229.1,625.1 C231.3,626.5 233.7,628.5 235.7,630.3 C237.7,632.0 239.2,633.7 241.0,635.6 C242.8,637.5 244.4,639.4 246.2,641.5 C247.9,643.6 249.4,645.5 251.5,648.1 C253.6,650.7 256.8,655.1 258.5,657.1 C260.2,659.1 260.4,657.9 262.0,659.9 C263.6,661.9 266.2,666.1 268.2,669.2 C270.1,672.3 271.8,675.4 273.7,678.5 C275.6,681.6 277.8,684.9 279.9,687.9 C282.0,690.9 284.0,693.8 286.1,696.4 C288.2,699.0 290.2,701.3 292.3,703.4 C294.4,705.5 296.4,706.9 298.5,708.9 C300.6,710.9 303.5,713.8 304.8,715.1 C306.1,716.4 306.2,716.3 306.5,716.5" fill="none" stroke="#14108A" stroke-width="2.8" stroke-linecap="round" stroke-linejoin="round" stroke-dasharray="0 5.2"/>
<path d="M40.0,590.7 C40.7,591.9 42.6,595.4 44.3,597.8 C46.0,600.2 47.6,602.6 50.0,604.9 C52.4,607.1 55.5,609.6 58.5,611.3 C61.5,613.0 64.7,614.4 68.0,615.3 C71.3,616.2 74.8,616.8 78.2,616.7 C81.6,616.6 85.0,615.2 88.4,614.5 C91.8,613.8 95.2,612.7 98.6,612.3 C102.0,611.9 106.9,612.3 108.8,612.3 C110.7,612.3 108.6,612.5 110.0,612.3 C111.4,612.0 114.9,611.4 117.3,610.8 C119.7,610.2 122.2,609.4 124.6,608.6 C127.0,607.8 129.5,607.0 131.9,606.1 C134.3,605.2 136.8,604.0 139.2,603.1 C141.6,602.2 144.1,601.5 146.5,601.0 C148.9,600.5 151.6,600.3 153.8,600.2 C156.1,600.1 157.6,600.3 160.0,600.4 C162.4,600.5 165.4,600.6 168.5,600.6 C171.6,600.6 175.7,600.7 178.4,600.6 C181.2,600.5 183.1,600.4 185.0,600.2 C186.9,600.0 188.2,599.9 190.0,599.5 C191.8,599.1 194.1,598.3 196.0,597.8 C197.9,597.2 198.8,597.2 201.7,596.2 C204.6,595.2 209.5,593.2 213.4,591.5 C217.3,589.8 221.6,587.5 225.0,585.9 C228.4,584.2 230.9,583.0 233.8,581.6 C236.7,580.2 240.3,578.3 242.5,577.3 C244.7,576.2 245.4,575.8 246.9,575.3 C248.4,574.8 249.9,574.6 251.3,574.6 C252.8,574.6 254.2,574.9 255.6,575.5 C257.1,576.1 258.7,577.0 260.0,578.1 C261.3,579.2 262.3,580.5 263.5,582.1 C264.7,583.7 265.8,585.7 267.0,587.8 C268.2,589.9 269.3,592.5 270.5,594.8 C271.7,597.1 272.8,599.3 274.0,601.8 C275.2,604.3 276.6,607.5 277.5,609.7 C278.4,611.9 278.2,611.4 279.3,615.0 C280.4,618.6 282.0,625.8 283.8,631.1 C285.6,636.4 288.1,641.5 290.0,646.7 C291.9,651.9 293.6,657.0 295.4,662.2 C297.2,667.4 299.2,672.6 300.9,677.8 C302.6,683.0 304.6,690.3 305.5,693.3 C306.4,696.2 306.4,695.1 306.6,695.5" fill="none" stroke="#F99A3A" stroke-width="3.0" stroke-linecap="round" stroke-linejoin="round"/>
<path d="M33.6,575.5 C33.7,577.1 33.9,581.4 34.2,585.0 C34.5,588.6 35.0,593.8 35.4,597.0 C35.8,600.2 36.3,602.8 36.6,604.5 C36.9,606.2 37.3,607.0 37.4,607.5" fill="none" stroke="#F99A3A" stroke-width="3.0" stroke-linecap="round" stroke-linejoin="round"/>
<path d="M33.2,579.3 C33.5,580.7 34.4,585.2 35.0,587.8 C35.6,590.4 36.1,592.5 37.1,594.9 C38.1,597.3 39.3,600.0 40.7,602.1 C42.1,604.2 43.9,605.9 45.7,607.8 C47.5,609.7 49.3,611.7 51.4,613.5 C53.5,615.3 55.7,617.0 58.5,618.8 C61.3,620.5 65.0,622.9 68.0,624.0 C71.0,625.1 73.5,625.3 76.7,625.2 C79.9,625.1 83.5,624.1 86.9,623.3 C90.3,622.5 93.8,621.1 97.2,620.4 C100.6,619.7 105.3,619.2 107.4,618.9 C109.5,618.5 108.3,618.5 110.0,618.3 C111.7,618.0 114.9,617.9 117.3,617.4 C119.7,616.9 122.2,616.1 124.6,615.2 C127.0,614.4 129.5,613.3 131.9,612.3 C134.3,611.3 136.8,610.0 139.2,609.3 C141.6,608.6 144.1,608.4 146.5,608.2 C148.9,608.0 151.6,608.1 153.8,608.0 C156.1,607.9 157.3,607.8 160.0,607.4 C162.7,607.0 167.9,605.8 170.0,605.6 C172.1,605.4 170.7,606.1 172.5,606.0 C174.3,605.9 178.1,605.3 181.0,604.8 C183.9,604.2 186.6,603.8 190.0,602.7 C193.4,601.7 197.8,600.1 201.7,598.5 C205.6,596.9 209.5,595.0 213.4,593.3 C217.3,591.6 221.6,589.9 225.0,588.4 C228.4,586.9 230.9,585.6 233.8,584.3 C236.7,583.0 240.2,581.7 242.5,580.8 C244.8,579.9 246.3,579.4 247.8,579.0 C249.3,578.6 250.0,578.5 251.3,578.6 C252.6,578.7 254.2,578.8 255.6,579.4 C257.1,580.0 258.7,581.2 260.0,582.5 C261.3,583.8 262.3,585.1 263.5,586.9 C264.7,588.6 265.8,590.8 267.0,593.0 C268.2,595.2 269.3,597.5 270.5,600.0 C271.7,602.5 273.0,605.4 274.0,607.9 C275.0,610.4 275.3,611.1 276.7,615.0 C278.1,618.9 280.2,625.8 282.2,631.1 C284.1,636.4 286.5,641.5 288.4,646.7 C290.3,651.9 291.9,657.0 293.8,662.2 C295.7,667.4 297.8,672.6 299.5,677.8 C301.2,683.0 303.0,689.8 304.2,693.3 C305.4,696.8 306.2,698.0 306.6,699.0" fill="none" stroke="#D8566C" stroke-width="3.0" stroke-linecap="round" stroke-linejoin="round"/>
<path d="M33.2,594.9 C33.6,596.2 34.7,600.4 35.7,602.8 C36.7,605.2 38.0,607.2 39.3,609.2 C40.6,611.2 42.1,613.4 43.5,614.9 C44.9,616.4 46.4,617.4 47.8,618.5 C49.2,619.6 50.0,620.3 51.9,621.8 C53.8,623.3 56.8,626.1 59.2,627.7 C61.6,629.3 64.1,630.3 66.5,631.3 C68.9,632.3 71.4,633.2 73.8,633.5 C76.2,633.8 78.2,633.3 81.1,632.8 C84.0,632.3 87.9,631.3 91.3,630.6 C94.7,629.9 98.4,629.0 101.5,628.4 C104.6,627.8 107.4,627.6 110.0,627.3 C112.6,627.0 114.9,627.1 117.3,626.5 C119.7,625.9 122.2,624.8 124.6,623.6 C127.0,622.4 129.5,620.6 131.9,619.2 C134.3,617.9 136.8,616.4 139.2,615.5 C141.6,614.6 144.1,614.1 146.5,613.6 C148.9,613.1 151.6,613.0 153.8,612.7 C156.1,612.4 158.0,612.3 160.0,612.0 C162.0,611.7 163.7,611.1 165.8,610.8 C167.9,610.5 170.0,610.6 172.5,610.3 C175.0,610.0 178.1,609.5 181.0,609.0 C183.9,608.5 186.6,608.3 190.0,607.3 C193.4,606.3 197.8,604.8 201.7,603.2 C205.6,601.6 209.5,599.6 213.4,597.9 C217.3,596.2 221.6,594.2 225.0,592.8 C228.4,591.4 230.9,590.6 233.8,589.5 C236.7,588.4 240.2,587.0 242.5,586.0 C244.8,585.0 246.2,584.2 247.8,583.8 C249.4,583.4 250.8,583.2 252.1,583.4 C253.4,583.5 254.4,584.0 255.6,584.7 C256.8,585.4 258.0,586.4 259.2,587.8 C260.4,589.2 261.5,591.1 262.7,593.0 C263.9,594.9 265.0,597.0 266.2,599.2 C267.4,601.4 268.6,603.9 269.7,606.2 C270.8,608.5 271.6,610.6 272.7,613.2 C273.8,615.8 275.2,618.8 276.5,621.8 C277.8,624.8 279.0,627.0 280.7,631.1 C282.4,635.2 284.8,641.5 286.9,646.7 C289.0,651.9 291.2,657.0 293.1,662.2 C295.0,667.4 296.8,672.6 298.5,677.8 C300.2,683.0 301.8,689.2 303.2,693.3 C304.6,697.4 306.0,701.0 306.6,702.6" fill="none" stroke="#7A08B0" stroke-width="3.0" stroke-linecap="round" stroke-linejoin="round"/>
<path d="M33.2,587.1 C33.6,588.4 34.8,592.6 35.7,594.9 C36.6,597.1 37.5,598.7 38.6,600.6 C39.7,602.5 40.8,604.5 42.1,606.3 C43.4,608.1 44.9,609.6 46.4,611.3 C47.9,613.0 50.2,615.0 51.4,616.3 C52.6,617.6 52.2,617.5 53.5,619.0 C54.8,620.5 57.0,623.8 59.2,625.5 C61.4,627.2 64.1,628.5 66.5,629.5 C68.9,630.5 71.4,631.5 73.8,631.8 C76.2,632.1 78.2,631.6 81.1,631.2 C84.0,630.8 87.9,629.9 91.3,629.2 C94.7,628.5 98.4,627.7 101.5,627.2 C104.6,626.8 107.4,626.7 110.0,626.5 C112.6,626.3 114.9,626.3 117.3,625.8 C119.7,625.3 122.2,624.6 124.6,623.6 C127.0,622.6 129.5,621.1 131.9,619.9 C134.3,618.7 136.8,617.2 139.2,616.3 C141.6,615.4 144.1,614.9 146.5,614.5 C148.9,614.1 151.6,614.0 153.8,613.9 C156.1,613.8 158.0,613.8 160.0,613.6 C162.0,613.4 163.7,613.0 165.8,612.9 C167.9,612.8 170.0,613.2 172.5,613.1 C175.0,613.0 178.1,612.6 181.0,612.2 C183.9,611.8 187.3,611.4 190.0,610.8 C192.7,610.2 194.7,609.6 197.0,608.8 C199.3,608.0 201.3,607.3 204.0,606.1 C206.7,604.9 209.9,603.0 213.4,601.4 C216.9,599.8 221.6,598.1 225.0,596.6 C228.4,595.1 230.9,594.1 233.8,592.6 C236.7,591.1 240.2,589.3 242.5,587.8 C244.8,586.3 246.1,584.6 247.8,583.4 C249.6,582.2 251.4,581.3 253.0,580.8 C254.6,580.3 255.9,580.2 257.4,580.3 C258.9,580.4 260.3,580.8 261.8,581.6 C263.3,582.4 264.8,583.6 266.2,585.1 C267.6,586.6 269.1,588.4 270.5,590.4 C271.9,592.4 273.4,594.9 274.9,597.4 C276.4,599.9 277.9,602.7 279.3,605.5 C280.7,608.3 281.9,611.5 283.0,614.2 C284.1,616.9 285.0,619.0 286.0,621.8 C287.0,624.6 287.6,627.0 289.2,631.1 C290.8,635.2 293.4,641.5 295.4,646.7 C297.3,651.9 299.2,657.3 300.9,662.2 C302.6,667.1 304.6,673.3 305.5,676.2 C306.4,679.1 306.4,678.9 306.6,679.5 C306.9,680.1 306.9,679.9 307.0,680.0" fill="none" stroke="#14108A" stroke-width="3.0" stroke-linecap="round" stroke-linejoin="round"/>
<ellipse cx="253.5" cy="581" rx="11.8" ry="26.2" fill="none" stroke="#000" stroke-width="1.8"/>
<line x1="241.6" y1="578" x2="221.4" y2="578" stroke="#000" stroke-width="1.6"/>
<path d="M210.4,578 L222.4,575 L221.8,578 L222.4,581 Z" fill="#000"/>
<ellipse cx="249.6" cy="649.4" rx="11.1" ry="26.5" fill="none" stroke="#000" stroke-width="1.8"/>
<line x1="249.6" y1="675.4" x2="269.4" y2="675.4" stroke="#000" stroke-width="1.6"/>
<path d="M280.4,675.4 L268.4,672.4 L269.0,675.4 L268.4,678.4 Z" fill="#000"/>
<line x1="127" y1="646.3" x2="156.2" y2="646.3" stroke="#F99A3A" stroke-width="2.6" stroke-linecap="round"/>
<text x="159.1" y="650.4" font-size="12.4" text-anchor="start" font-weight="bold" font-family='"Liberation Serif", serif'  textLength="31.6" lengthAdjust="spacingAndGlyphs">293 K</text>
<line x1="127" y1="662.1" x2="156.2" y2="662.1" stroke="#D8566C" stroke-width="2.6" stroke-linecap="round"/>
<text x="159.1" y="666.2" font-size="12.4" text-anchor="start" font-weight="bold" font-family='"Liberation Serif", serif'  textLength="31.6" lengthAdjust="spacingAndGlyphs">313 K</text>
<line x1="127" y1="677.6" x2="156.2" y2="677.6" stroke="#7A08B0" stroke-width="2.6" stroke-linecap="round"/>
<text x="159.1" y="681.7" font-size="12.4" text-anchor="start" font-weight="bold" font-family='"Liberation Serif", serif'  textLength="31.6" lengthAdjust="spacingAndGlyphs">343 K</text>
<line x1="127" y1="693" x2="156.2" y2="693" stroke="#14108A" stroke-width="2.6" stroke-linecap="round"/>
<text x="159.1" y="697.1" font-size="12.4" text-anchor="start" font-weight="bold" font-family='"Liberation Serif", serif'  textLength="31.6" lengthAdjust="spacingAndGlyphs">373 K</text>
<text x="40" y="549.7" font-size="14" text-anchor="start" font-weight="bold" font-family='"Liberation Sans", sans-serif' >e</text>
<text x="84" y="544.2" font-size="11.2" text-anchor="start" font-weight="bold" font-family='"Liberation Serif", serif'  textLength="160.1" lengthAdjust="spacingAndGlyphs"><tspan font-style="italic">w</tspan><tspan font-style="italic" font-size="7.5" dy="2">s</tspan><tspan dy="-2">=250 μm, </tspan><tspan font-style="italic">l</tspan><tspan font-style="italic" font-size="7.5" dy="2">c</tspan><tspan dy="-2">=60 μm, </tspan><tspan font-style="italic">l</tspan><tspan font-style="italic" font-size="7.5" dy="2">s</tspan><tspan dy="-2">=1300 μm</tspan></text>
<text x="9.7" y="638.5" font-size="13.6" text-anchor="middle" font-weight="bold" font-family='"Liberation Serif", serif' transform="rotate(-90 9.7 638.5)"  textLength="38.9" lengthAdjust="spacingAndGlyphs">L (nH)</text>
<text x="331.6" y="642.5" font-size="13.4" text-anchor="middle" font-weight="bold" font-family='"Liberation Serif", serif' transform="rotate(-90 331.6 642.5)"  textLength="47.2" lengthAdjust="spacingAndGlyphs"><tspan font-style="italic">Q</tspan> factor</text>
<text x="170.6" y="767.5" font-size="13.4" text-anchor="middle" font-weight="bold" font-family='"Liberation Serif", serif' >Frequency (GHz)</text>
<line x1="58.120000000000005" y1="738.5" x2="58.120000000000005" y2="733.7" stroke="#000" stroke-width="2.5"/>
<line x1="58.120000000000005" y1="518.2" x2="58.120000000000005" y2="523.0" stroke="#000" stroke-width="2.5"/>
<line x1="107.96000000000001" y1="738.5" x2="107.96000000000001" y2="733.7" stroke="#000" stroke-width="2.5"/>
<line x1="107.96000000000001" y1="518.2" x2="107.96000000000001" y2="523.0" stroke="#000" stroke-width="2.5"/>
<line x1="157.8" y1="738.5" x2="157.8" y2="733.7" stroke="#000" stroke-width="2.5"/>
<line x1="157.8" y1="518.2" x2="157.8" y2="523.0" stroke="#000" stroke-width="2.5"/>
<line x1="207.64" y1="738.5" x2="207.64" y2="733.7" stroke="#000" stroke-width="2.5"/>
<line x1="207.64" y1="518.2" x2="207.64" y2="523.0" stroke="#000" stroke-width="2.5"/>
<line x1="257.48" y1="738.5" x2="257.48" y2="733.7" stroke="#000" stroke-width="2.5"/>
<line x1="257.48" y1="518.2" x2="257.48" y2="523.0" stroke="#000" stroke-width="2.5"/>
<line x1="83.04" y1="738.5" x2="83.04" y2="735.8" stroke="#000" stroke-width="2.5"/>
<line x1="83.04" y1="518.2" x2="83.04" y2="520.9000000000001" stroke="#000" stroke-width="2.5"/>
<line x1="132.88" y1="738.5" x2="132.88" y2="735.8" stroke="#000" stroke-width="2.5"/>
<line x1="132.88" y1="518.2" x2="132.88" y2="520.9000000000001" stroke="#000" stroke-width="2.5"/>
<line x1="182.72000000000003" y1="738.5" x2="182.72000000000003" y2="735.8" stroke="#000" stroke-width="2.5"/>
<line x1="182.72000000000003" y1="518.2" x2="182.72000000000003" y2="520.9000000000001" stroke="#000" stroke-width="2.5"/>
<line x1="232.56" y1="738.5" x2="232.56" y2="735.8" stroke="#000" stroke-width="2.5"/>
<line x1="232.56" y1="518.2" x2="232.56" y2="520.9000000000001" stroke="#000" stroke-width="2.5"/>
<line x1="282.40000000000003" y1="738.5" x2="282.40000000000003" y2="735.8" stroke="#000" stroke-width="2.5"/>
<line x1="282.40000000000003" y1="518.2" x2="282.40000000000003" y2="520.9000000000001" stroke="#000" stroke-width="2.5"/>
<line x1="33.2" y1="672.41" x2="38.0" y2="672.41" stroke="#000" stroke-width="2.5"/>
<line x1="33.2" y1="606.3199999999999" x2="38.0" y2="606.3199999999999" stroke="#000" stroke-width="2.5"/>
<line x1="33.2" y1="540.23" x2="38.0" y2="540.23" stroke="#000" stroke-width="2.5"/>
<line x1="33.2" y1="705.455" x2="35.900000000000006" y2="705.455" stroke="#000" stroke-width="2.5"/>
<line x1="33.2" y1="639.365" x2="35.900000000000006" y2="639.365" stroke="#000" stroke-width="2.5"/>
<line x1="33.2" y1="573.275" x2="35.900000000000006" y2="573.275" stroke="#000" stroke-width="2.5"/>
<line x1="307.3" y1="683.42" x2="302.5" y2="683.42" stroke="#000" stroke-width="2.5"/>
<line x1="307.3" y1="628.34" x2="302.5" y2="628.34" stroke="#000" stroke-width="2.5"/>
<line x1="307.3" y1="573.26" x2="302.5" y2="573.26" stroke="#000" stroke-width="2.5"/>
<line x1="307.3" y1="710.96" x2="304.6" y2="710.96" stroke="#000" stroke-width="2.5"/>
<line x1="307.3" y1="655.88" x2="304.6" y2="655.88" stroke="#000" stroke-width="2.5"/>
<line x1="307.3" y1="600.8" x2="304.6" y2="600.8" stroke="#000" stroke-width="2.5"/>
<line x1="307.3" y1="545.72" x2="304.6" y2="545.72" stroke="#000" stroke-width="2.5"/>
<text x="58.120000000000005" y="753.9" font-size="13" text-anchor="middle" font-weight="bold" font-family='"Liberation Serif", serif' >1</text>
<text x="107.96000000000001" y="753.9" font-size="13" text-anchor="middle" font-weight="bold" font-family='"Liberation Serif", serif' >2</text>
<text x="157.8" y="753.9" font-size="13" text-anchor="middle" font-weight="bold" font-family='"Liberation Serif", serif' >3</text>
<text x="207.64" y="753.9" font-size="13" text-anchor="middle" font-weight="bold" font-family='"Liberation Serif", serif' >4</text>
<text x="257.48" y="753.9" font-size="13" text-anchor="middle" font-weight="bold" font-family='"Liberation Serif", serif' >5</text>
<text x="307.32" y="753.9" font-size="13" text-anchor="middle" font-weight="bold" font-family='"Liberation Serif", serif' >6</text>
<text x="28.200000000000003" y="743.09" font-size="13.5" text-anchor="end" font-weight="bold" font-family='"Liberation Serif", serif' >0.0</text>
<text x="28.200000000000003" y="677.0" font-size="13.5" text-anchor="end" font-weight="bold" font-family='"Liberation Serif", serif' >0.3</text>
<text x="28.200000000000003" y="610.91" font-size="13.5" text-anchor="end" font-weight="bold" font-family='"Liberation Serif", serif' >0.6</text>
<text x="28.200000000000003" y="544.82" font-size="13.5" text-anchor="end" font-weight="bold" font-family='"Liberation Serif", serif' >0.9</text>
<text x="312.0" y="743.09" font-size="13.5" text-anchor="start" font-weight="bold" font-family='"Liberation Serif", serif' >0</text>
<text x="312.0" y="688.01" font-size="13.5" text-anchor="start" font-weight="bold" font-family='"Liberation Serif", serif' >1</text>
<text x="312.0" y="632.9300000000001" font-size="13.5" text-anchor="start" font-weight="bold" font-family='"Liberation Serif", serif' >2</text>
<text x="312.0" y="577.85" font-size="13.5" text-anchor="start" font-weight="bold" font-family='"Liberation Serif", serif' >3</text>
<text x="312.0" y="522.7700000000001" font-size="13.5" text-anchor="start" font-weight="bold" font-family='"Liberation Serif", serif' >4</text>
<rect x="33.2" y="518.2" width="274.1" height="220.29999999999995" fill="none" stroke="#000" stroke-width="2.4"/>
<path d="M383.3,574.4 C384.2,574.5 386.3,575.3 388.6,575.1 C390.9,574.9 394.3,574.4 397.1,573.4 C399.9,572.4 402.7,571.0 405.5,569.2 C408.3,567.4 411.2,565.1 414.0,562.8 C416.8,560.5 419.9,558.1 422.5,555.4 C425.1,552.7 427.4,549.3 429.9,546.5 C432.4,543.7 435.2,541.1 437.3,538.5 C439.4,535.9 440.8,533.5 442.6,531.1 C444.4,528.7 446.3,525.9 447.9,524.3 C449.5,522.7 450.5,521.7 452.1,521.5 C453.7,521.3 455.8,521.9 457.4,523.0 C459.0,524.1 460.4,525.1 461.6,527.9 C462.8,530.6 463.9,535.1 464.8,539.5 C465.7,543.9 466.2,549.0 466.9,554.3 C467.6,559.6 468.3,565.6 469.0,571.3 C469.7,576.9 470.4,582.6 471.1,588.2 C471.8,593.8 472.7,599.6 473.3,605.1 C473.9,610.6 474.5,615.0 475.0,621.0 C475.5,627.0 475.8,634.3 476.4,641.2 C477.0,648.1 477.9,655.2 478.6,662.3 C479.3,669.3 480.0,675.7 480.7,683.5 C481.4,691.3 482.2,700.8 482.8,708.9 C483.4,717.0 484.2,728.1 484.5,732.0" fill="none" stroke="#168C64" stroke-width="3.5" stroke-linecap="round" stroke-linejoin="round"/>
<path d="M383.3,701.0 C383.5,700.5 384.0,698.6 384.5,698.0 C385.0,697.4 384.1,697.4 386.5,697.3 C388.9,697.2 393.6,697.5 399.2,697.3 C404.8,697.0 413.9,696.5 420.3,695.8 C426.7,695.1 432.0,693.9 437.3,693.0 C442.6,692.1 447.2,691.4 452.1,690.3 C457.0,689.2 462.9,687.3 466.9,686.3 C470.9,685.2 473.3,684.5 476.0,684.0 C478.7,683.5 480.8,683.5 483.1,683.0 C485.4,682.5 487.6,681.8 490.0,681.2 C492.4,680.7 495.7,680.2 497.6,679.7 C499.5,679.2 500.2,678.8 501.5,678.2 C502.8,677.7 503.8,676.2 505.5,676.4 C507.2,676.5 509.6,678.0 512.0,679.1 C514.4,680.2 517.3,681.1 519.9,683.0 C522.5,684.9 525.4,687.5 527.8,690.2 C530.2,692.9 532.4,696.1 534.4,699.4 C536.4,702.7 538.0,706.4 539.6,709.9 C541.2,713.4 542.7,717.1 544.2,720.4 C545.7,723.7 547.6,727.6 548.8,729.6 C550.0,731.6 551.0,731.8 551.5,732.2" fill="none" stroke="#A0207F" stroke-width="3.2" stroke-linecap="round" stroke-linejoin="round"/>
<path d="M383.3,726.5 C383.8,726.7 383.4,727.2 386.0,727.5 C388.6,727.8 389.9,728.1 399.2,728.0 C408.4,727.9 427.4,727.3 441.5,726.9 C455.6,726.5 472.4,726.1 483.8,725.8 C495.2,725.4 502.1,725.1 510.0,724.8 C517.9,724.5 524.2,724.4 531.2,724.1 C538.2,723.9 545.9,723.6 552.3,723.3 C558.6,723.0 562.9,722.3 569.3,722.2 C575.6,722.1 584.8,722.4 590.4,722.5 C596.0,722.6 599.2,722.8 603.1,723.1 C607.0,723.4 610.9,723.8 613.7,724.4 C616.5,725.0 617.6,725.9 620.1,726.9 C622.6,727.9 625.9,729.2 628.5,730.1 C631.1,731.0 634.8,731.9 636.0,732.2" fill="none" stroke="#B48214" stroke-width="3.2" stroke-linecap="round" stroke-linejoin="round"/>
<line x1="545.4" y1="546.2" x2="574.5" y2="546.2" stroke="#168C64" stroke-width="2.8" stroke-linecap="round"/>
<text x="580.3" y="550.3000000000001" font-size="11.4" text-anchor="start" font-weight="bold" font-family='"Liberation Serif", serif'  textLength="35.7" lengthAdjust="spacingAndGlyphs">state A</text>
<line x1="545.4" y1="562" x2="574.5" y2="562" stroke="#A0207F" stroke-width="2.8" stroke-linecap="round"/>
<text x="580.3" y="566.1" font-size="11.4" text-anchor="start" font-weight="bold" font-family='"Liberation Serif", serif'  textLength="35.7" lengthAdjust="spacingAndGlyphs">state B</text>
<line x1="545.4" y1="577.3" x2="574.5" y2="577.3" stroke="#B48214" stroke-width="2.8" stroke-linecap="round"/>
<text x="580.3" y="581.4" font-size="11.4" text-anchor="start" font-weight="bold" font-family='"Liberation Serif", serif'  textLength="35.7" lengthAdjust="spacingAndGlyphs">state C</text>
<text x="388.4" y="540.4" font-size="14.5" text-anchor="start" font-weight="bold" font-family='"Liberation Sans", sans-serif' >f</text>
<text x="357.9" y="624" font-size="14" text-anchor="middle" font-weight="bold" font-family='"Liberation Serif", serif' transform="rotate(-90 357.9 624)"  textLength="36.1" lengthAdjust="spacingAndGlyphs">C (pF)</text>
<text x="517.5" y="769" font-size="13.2" text-anchor="middle" font-weight="bold" font-family='"Liberation Serif", serif'  textLength="98.1" lengthAdjust="spacingAndGlyphs">Frequency (GHz)</text>
<line x1="430.53499999999997" y1="732.2" x2="430.53499999999997" y2="727.4000000000001" stroke="#000" stroke-width="2.5"/>
<line x1="430.53499999999997" y1="516.1" x2="430.53499999999997" y2="520.9" stroke="#000" stroke-width="2.5"/>
<line x1="478.57" y1="732.2" x2="478.57" y2="727.4000000000001" stroke="#000" stroke-width="2.5"/>
<line x1="478.57" y1="516.1" x2="478.57" y2="520.9" stroke="#000" stroke-width="2.5"/>
<line x1="526.605" y1="732.2" x2="526.605" y2="727.4000000000001" stroke="#000" stroke-width="2.5"/>
<line x1="526.605" y1="516.1" x2="526.605" y2="520.9" stroke="#000" stroke-width="2.5"/>
<line x1="574.64" y1="732.2" x2="574.64" y2="727.4000000000001" stroke="#000" stroke-width="2.5"/>
<line x1="574.64" y1="516.1" x2="574.64" y2="520.9" stroke="#000" stroke-width="2.5"/>
<line x1="622.675" y1="732.2" x2="622.675" y2="727.4000000000001" stroke="#000" stroke-width="2.5"/>
<line x1="622.675" y1="516.1" x2="622.675" y2="520.9" stroke="#000" stroke-width="2.5"/>
<line x1="406.5175" y1="732.2" x2="406.5175" y2="729.5" stroke="#000" stroke-width="2.5"/>
<line x1="406.5175" y1="516.1" x2="406.5175" y2="518.8000000000001" stroke="#000" stroke-width="2.5"/>
<line x1="454.5525" y1="732.2" x2="454.5525" y2="729.5" stroke="#000" stroke-width="2.5"/>
<line x1="454.5525" y1="516.1" x2="454.5525" y2="518.8000000000001" stroke="#000" stroke-width="2.5"/>
<line x1="502.5875" y1="732.2" x2="502.5875" y2="729.5" stroke="#000" stroke-width="2.5"/>
<line x1="502.5875" y1="516.1" x2="502.5875" y2="518.8000000000001" stroke="#000" stroke-width="2.5"/>
<line x1="550.6225" y1="732.2" x2="550.6225" y2="729.5" stroke="#000" stroke-width="2.5"/>
<line x1="550.6225" y1="516.1" x2="550.6225" y2="518.8000000000001" stroke="#000" stroke-width="2.5"/>
<line x1="598.6575" y1="732.2" x2="598.6575" y2="729.5" stroke="#000" stroke-width="2.5"/>
<line x1="598.6575" y1="516.1" x2="598.6575" y2="518.8000000000001" stroke="#000" stroke-width="2.5"/>
<line x1="646.6925" y1="732.2" x2="646.6925" y2="729.5" stroke="#000" stroke-width="2.5"/>
<line x1="646.6925" y1="516.1" x2="646.6925" y2="518.8000000000001" stroke="#000" stroke-width="2.5"/>
<line x1="382.5" y1="670.6" x2="387.3" y2="670.6" stroke="#000" stroke-width="2.5"/>
<line x1="382.5" y1="609.0" x2="387.3" y2="609.0" stroke="#000" stroke-width="2.5"/>
<line x1="382.5" y1="547.4000000000001" x2="387.3" y2="547.4000000000001" stroke="#000" stroke-width="2.5"/>
<line x1="382.5" y1="701.4000000000001" x2="385.2" y2="701.4000000000001" stroke="#000" stroke-width="2.5"/>
<line x1="382.5" y1="639.8000000000001" x2="385.2" y2="639.8000000000001" stroke="#000" stroke-width="2.5"/>
<line x1="382.5" y1="578.2" x2="385.2" y2="578.2" stroke="#000" stroke-width="2.5"/>
<line x1="382.5" y1="516.6" x2="385.2" y2="516.6" stroke="#000" stroke-width="2.5"/>
<line x1="651.5" y1="670.6" x2="646.7" y2="670.6" stroke="#000" stroke-width="2.5"/>
<line x1="651.5" y1="609.0" x2="646.7" y2="609.0" stroke="#000" stroke-width="2.5"/>
<line x1="651.5" y1="547.4000000000001" x2="646.7" y2="547.4000000000001" stroke="#000" stroke-width="2.5"/>
<line x1="651.5" y1="701.4000000000001" x2="648.8" y2="701.4000000000001" stroke="#000" stroke-width="2.5"/>
<line x1="651.5" y1="639.8000000000001" x2="648.8" y2="639.8000000000001" stroke="#000" stroke-width="2.5"/>
<line x1="651.5" y1="578.2" x2="648.8" y2="578.2" stroke="#000" stroke-width="2.5"/>
<line x1="651.5" y1="516.6" x2="648.8" y2="516.6" stroke="#000" stroke-width="2.5"/>
<text x="382.5" y="747.2" font-size="12.8" text-anchor="middle" font-weight="bold" font-family='"Liberation Serif", serif' >0</text>
<text x="430.53499999999997" y="747.2" font-size="12.8" text-anchor="middle" font-weight="bold" font-family='"Liberation Serif", serif' >5</text>
<text x="478.57" y="747.2" font-size="12.8" text-anchor="middle" font-weight="bold" font-family='"Liberation Serif", serif' >10</text>
<text x="526.605" y="747.2" font-size="12.8" text-anchor="middle" font-weight="bold" font-family='"Liberation Serif", serif' >15</text>
<text x="574.64" y="747.2" font-size="12.8" text-anchor="middle" font-weight="bold" font-family='"Liberation Serif", serif' >20</text>
<text x="622.675" y="747.2" font-size="12.8" text-anchor="middle" font-weight="bold" font-family='"Liberation Serif", serif' >25</text>
<text x="377.8" y="736.552" font-size="12.8" text-anchor="end" font-weight="bold" font-family='"Liberation Serif", serif' >0.0</text>
<text x="377.8" y="674.952" font-size="12.8" text-anchor="end" font-weight="bold" font-family='"Liberation Serif", serif' >0.2</text>
<text x="377.8" y="613.352" font-size="12.8" text-anchor="end" font-weight="bold" font-family='"Liberation Serif", serif' >0.4</text>
<text x="377.8" y="551.7520000000001" font-size="12.8" text-anchor="end" font-weight="bold" font-family='"Liberation Serif", serif' >0.6</text>
<rect x="382.5" y="516.1" width="269.0" height="216.10000000000002" fill="none" stroke="#000" stroke-width="2.4"/>
</svg>
</body></html>
